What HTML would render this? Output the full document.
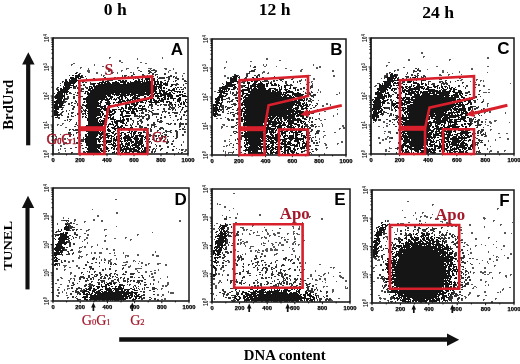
<!DOCTYPE html><html><head><meta charset="utf-8"><style>html,body{margin:0;padding:0;background:#fff;}svg{display:block}</style></head><body><svg width="520" height="364" viewBox="0 0 520 364"><rect width="520" height="364" fill="#fff"/><path d="M421 52.5h2M421 53.5h2M423 56.5h2M109 57.5h2M162 57.5h1M423 57.5h1M487 57.5h2M109 58.5h1M137 58.5h1M162 58.5h1M266 58.5h2M487 58.5h2M137 59.5h1M266 59.5h2M408 59.5h2M449 59.5h2M119 60.5h2M279 60.5h2M408 60.5h2M449 60.5h1M119 61.5h2M226 61.5h1M250 61.5h2M121 62.5h2M140 62.5h2M226 62.5h1M388 62.5h2M73 63.5h2M145 63.5h2M71 64.5h2M94 64.5h1M263 64.5h1M266 64.5h1M313 64.5h1M71 65.5h1M94 65.5h1M250 65.5h1M263 65.5h1M266 65.5h1M313 65.5h1M386 65.5h2M102 66.5h2M250 66.5h1M264 66.5h2M276 66.5h1M319 66.5h2M386 66.5h1M436 66.5h2M487 66.5h2M80 67.5h2M137 67.5h2M224 67.5h2M316 67.5h2M319 67.5h2M403 67.5h2M80 68.5h1M88 68.5h1M126 68.5h3M137 68.5h1M148 68.5h4M164 68.5h3M173 68.5h1M224 68.5h1M285 68.5h2M316 68.5h2M471 68.5h2M88 69.5h1M126 69.5h1M150 69.5h1M153 69.5h2M165 69.5h2M173 69.5h1M301 69.5h2M397 69.5h2M427 69.5h1M471 69.5h2M87 70.5h3M108 70.5h2M121 70.5h2M138 70.5h2M156 70.5h1M169 70.5h2M290 70.5h2M300 70.5h2M332 70.5h2M394 70.5h2M397 70.5h2M442 70.5h2M87 71.5h3M108 71.5h2M121 71.5h1M168 71.5h1M263 71.5h2M300 71.5h2M332 71.5h2M442 71.5h2M459 71.5h1M88 72.5h2M96 72.5h2M112 72.5h2M117 72.5h1M130 72.5h2M133 72.5h1M168 72.5h1M175 72.5h2M262 72.5h3M268 72.5h1M442 72.5h2M447 72.5h1M459 72.5h1M487 72.5h1M96 73.5h2M105 73.5h2M112 73.5h1M117 73.5h1M175 73.5h2M183 73.5h2M246 73.5h1M262 73.5h1M267 73.5h2M386 73.5h1M452 73.5h1M101 74.5h1M439 74.5h2M448 74.5h2M461 74.5h1M101 75.5h1M103 75.5h2M182 75.5h1M224 75.5h2M309 75.5h2M333 75.5h2M384 75.5h1M439 75.5h3M448 75.5h1M176 76.5h1M182 76.5h1M224 76.5h2M333 76.5h2M227 77.5h2M434 77.5h2M447 77.5h1M459 77.5h2M182 78.5h2M227 78.5h1M292 78.5h2M313 78.5h2M381 78.5h1M459 78.5h2M301 79.5h1M305 79.5h1M313 79.5h2M461 79.5h2M476 79.5h2M299 80.5h3M305 80.5h1M460 80.5h2M476 80.5h1M480 80.5h2M483 80.5h1M311 81.5h2M470 81.5h1M480 81.5h1M483 81.5h1M308 82.5h2M311 82.5h1M474 82.5h2M312 83.5h1M474 83.5h1M510 83.5h1M312 84.5h1M478 84.5h2M375 85.5h1M479 85.5h1M483 85.5h2M374 86.5h2M483 86.5h2M56 88.5h1M318 89.5h1M488 89.5h2M318 90.5h1M214 91.5h2M320 91.5h1M317 92.5h1M320 92.5h1M339 92.5h1M483 92.5h4M488 92.5h2M339 93.5h1M336 94.5h2M187 96.5h1M483 99.5h1M318 100.5h1M483 100.5h1M187 102.5h1M326 103.5h2M487 103.5h2M326 104.5h2M330 104.5h1M487 104.5h1M322 105.5h2M330 105.5h1M487 105.5h1M187 106.5h1M322 106.5h2M487 106.5h1M324 108.5h1M484 108.5h1M324 109.5h3M337 109.5h1M187 110.5h1M484 110.5h1M187 111.5h1M324 111.5h2M484 111.5h1M486 111.5h2M489 111.5h2M484 112.5h2M489 112.5h2M505 112.5h1M319 113.5h1M337 113.5h1M484 113.5h1M505 113.5h1M319 114.5h1M337 114.5h1M333 115.5h1M333 116.5h1M225 117.5h1M216 118.5h2M220 118.5h2M318 118.5h2M227 119.5h1M319 119.5h1M324 119.5h2M485 119.5h2M64 120.5h1M320 120.5h2M494 120.5h3M383 121.5h2M485 121.5h1M489 121.5h2M494 121.5h2M383 122.5h2M485 122.5h1M489 122.5h3M509 122.5h1M62 123.5h2M321 123.5h1M386 123.5h2M490 123.5h2M57 124.5h2M62 124.5h1M222 124.5h3M322 124.5h1M485 124.5h1M57 125.5h1M60 125.5h2M223 125.5h2M322 125.5h1M342 125.5h2M386 125.5h2M487 125.5h2M221 126.5h2M226 126.5h2M318 126.5h2M322 126.5h1M342 126.5h2M378 126.5h2M386 126.5h2M490 126.5h1M65 127.5h2M221 127.5h2M343 127.5h2M383 127.5h1M221 128.5h1M339 128.5h2M343 128.5h2M339 129.5h1M490 129.5h2M319 130.5h1M490 130.5h1M185 131.5h1M319 131.5h1M323 131.5h2M384 131.5h2M388 131.5h3M185 132.5h1M334 132.5h2M388 132.5h3M384 133.5h1M390 133.5h1M498 133.5h2M506 133.5h2M60 134.5h1M65 134.5h2M230 135.5h2M324 135.5h2M486 135.5h1M56 136.5h1M323 136.5h1M387 136.5h2M486 136.5h1M56 137.5h1M323 137.5h1M378 137.5h2M387 137.5h1M389 137.5h2M499 137.5h2M55 138.5h2M59 138.5h2M64 138.5h2M67 138.5h1M319 138.5h1M378 138.5h2M385 138.5h2M389 138.5h2M507 138.5h2M55 139.5h2M64 139.5h2M229 139.5h1M319 139.5h1M382 139.5h2M385 139.5h2M495 139.5h1M507 139.5h2M224 140.5h2M382 140.5h2M488 140.5h1M495 140.5h1M183 141.5h1M224 141.5h2M229 141.5h1M319 141.5h1M341 141.5h2M389 141.5h2M488 141.5h1M65 142.5h2M183 142.5h1M319 142.5h1M341 142.5h2M379 142.5h2M389 142.5h1M63 143.5h4M230 143.5h2M324 143.5h2M337 143.5h2M379 143.5h2M63 144.5h2M229 144.5h1M325 144.5h2M337 144.5h1M60 145.5h2M226 145.5h2M229 145.5h1M325 145.5h2M60 146.5h2M223 146.5h2M226 146.5h1M490 146.5h1M232 147.5h1M326 147.5h2M389 147.5h1M60 148.5h1M64 148.5h2M326 148.5h1M389 148.5h3M487 148.5h1M58 149.5h1M60 149.5h1M183 149.5h1M185 149.5h2M385 149.5h2M487 149.5h1M58 150.5h1M65 150.5h1M185 150.5h2M223 150.5h1M385 150.5h2M490 150.5h2M504 150.5h2M65 151.5h1M184 151.5h2M223 151.5h1M225 151.5h1M385 151.5h2M388 151.5h2M489 151.5h3M497 151.5h2M504 151.5h1M58 152.5h2M225 152.5h1M228 152.5h5M489 152.5h1M497 152.5h2M71 153.5h1M84 153.5h2M91 153.5h4M97 153.5h3M112 153.5h1M114 153.5h1M116 153.5h1M121 153.5h2M124 153.5h6M137 153.5h2M140 153.5h3M145 153.5h3M166 153.5h1M181 153.5h1M225 153.5h1M228 153.5h1M232 153.5h1M324 153.5h1M396 153.5h1M404 153.5h2M407 153.5h3M413 153.5h1M418 153.5h1M420 153.5h4M426 153.5h2M432 153.5h3M451 153.5h1M454 153.5h1M458 153.5h3M250 154.5h4M255 154.5h1M263 154.5h1M265 154.5h1M268 154.5h1M270 154.5h1M272 154.5h1M282 154.5h1M284 154.5h2M292 154.5h2M297 154.5h2M309 154.5h1M324 154.5h1M233 193.5h2M115 199.5h2M407 201.5h2M217 203.5h1M217 204.5h1M219 204.5h2M432 204.5h2M432 205.5h1M224 206.5h2M224 207.5h2M233 208.5h1M497 208.5h2M92 209.5h1M497 209.5h1M229 210.5h1M402 210.5h1M441 211.5h2M116 212.5h2M415 212.5h1M422 212.5h2M116 213.5h2M237 213.5h1M415 213.5h1M422 213.5h1M237 214.5h1M259 214.5h2M432 214.5h1M97 215.5h2M222 215.5h1M259 215.5h2M413 215.5h1M424 215.5h2M97 216.5h2M309 216.5h2M420 216.5h2M424 216.5h4M63 217.5h1M229 217.5h2M235 217.5h2M309 217.5h1M404 217.5h2M420 217.5h1M426 217.5h2M430 217.5h2M483 217.5h2M63 218.5h1M235 218.5h2M321 218.5h2M416 218.5h1M430 218.5h1M435 218.5h4M483 218.5h3M74 219.5h2M93 219.5h2M321 219.5h2M416 219.5h1M435 219.5h1M437 219.5h1M449 219.5h2M484 219.5h1M61 220.5h2M74 220.5h2M93 220.5h2M101 220.5h2M179 220.5h2M387 220.5h2M419 220.5h2M444 220.5h2M493 220.5h2M74 221.5h1M84 221.5h2M101 221.5h2M179 221.5h2M388 221.5h1M419 221.5h2M440 221.5h3M493 221.5h1M84 222.5h1M235 222.5h2M302 222.5h1M408 222.5h2M425 222.5h1M442 222.5h1M446 222.5h2M512 222.5h1M57 223.5h1M74 223.5h1M216 223.5h2M235 223.5h2M238 223.5h1M260 223.5h1M281 223.5h2M389 223.5h1M397 223.5h2M400 223.5h4M446 223.5h2M449 223.5h2M57 224.5h1M76 224.5h2M238 224.5h1M252 224.5h2M281 224.5h2M400 224.5h2M408 224.5h1M436 224.5h2M469 224.5h2M500 224.5h2M214 225.5h1M252 225.5h2M389 225.5h2M393 225.5h1M447 225.5h2M451 225.5h2M455 225.5h2M469 225.5h2M500 225.5h1M116 226.5h1M252 226.5h1M292 226.5h2M299 226.5h1M389 226.5h1M405 226.5h2M447 226.5h2M451 226.5h2M455 226.5h2M484 226.5h1M240 227.5h4M264 227.5h1M293 227.5h1M299 227.5h1M391 227.5h2M460 227.5h2M484 227.5h1M213 228.5h2M242 228.5h2M279 228.5h2M293 228.5h1M298 228.5h2M397 228.5h1M80 229.5h2M88 229.5h2M104 229.5h3M213 229.5h2M243 229.5h2M246 229.5h2M265 229.5h2M298 229.5h2M397 229.5h1M460 229.5h2M86 230.5h3M104 230.5h1M243 230.5h2M246 230.5h1M250 230.5h2M265 230.5h2M272 230.5h1M397 230.5h1M460 230.5h2M86 231.5h1M257 231.5h1M262 231.5h1M266 231.5h1M293 231.5h2M374 231.5h1M397 231.5h1M152 232.5h1M253 232.5h2M257 232.5h1M267 232.5h1M277 232.5h3M293 232.5h1M394 232.5h1M471 232.5h2M504 232.5h2M84 233.5h2M242 233.5h1M249 233.5h1M253 233.5h1M267 233.5h2M273 233.5h2M277 233.5h3M287 233.5h2M293 233.5h2M296 233.5h2M461 233.5h2M471 233.5h2M504 233.5h2M511 233.5h1M54 234.5h1M87 234.5h2M137 234.5h2M242 234.5h1M249 234.5h2M267 234.5h2M273 234.5h3M287 234.5h1M293 234.5h1M297 234.5h3M87 235.5h2M105 235.5h2M137 235.5h1M256 235.5h4M269 235.5h2M274 235.5h2M302 235.5h2M79 236.5h2M105 236.5h1M264 236.5h1M269 236.5h1M278 236.5h2M294 236.5h1M385 236.5h3M79 237.5h1M86 237.5h2M125 237.5h2M261 237.5h2M264 237.5h3M281 237.5h2M284 237.5h1M294 237.5h1M386 237.5h2M488 237.5h2M79 238.5h1M86 238.5h2M114 238.5h2M125 238.5h1M261 238.5h1M265 238.5h2M281 238.5h1M294 238.5h2M387 238.5h1M475 238.5h2M488 238.5h1M84 239.5h2M130 239.5h2M240 239.5h2M284 239.5h2M287 239.5h2M294 239.5h2M387 239.5h1M461 239.5h2M475 239.5h2M84 240.5h1M104 240.5h2M130 240.5h1M240 240.5h1M268 240.5h1M284 240.5h2M303 240.5h2M462 240.5h1M82 241.5h1M104 241.5h2M242 241.5h2M246 241.5h2M268 241.5h1M286 241.5h2M294 241.5h2M303 241.5h1M386 241.5h1M496 241.5h1M87 242.5h1M240 242.5h2M244 242.5h4M263 242.5h1M275 242.5h2M279 242.5h2M286 242.5h2M293 242.5h2M464 242.5h2M87 243.5h1M238 243.5h1M240 243.5h2M243 243.5h2M261 243.5h1M263 243.5h3M271 243.5h2M279 243.5h2M292 243.5h2M295 243.5h1M464 243.5h1M97 244.5h1M238 244.5h1M240 244.5h1M244 244.5h1M261 244.5h1M272 244.5h2M278 244.5h1M281 244.5h3M292 244.5h2M295 244.5h1M298 244.5h2M466 244.5h2M481 244.5h1M493 244.5h1M97 245.5h1M245 245.5h1M263 245.5h2M272 245.5h1M278 245.5h1M281 245.5h3M298 245.5h1M467 245.5h2M475 245.5h2M485 245.5h1M503 245.5h2M82 246.5h1M84 246.5h2M91 246.5h2M245 246.5h1M250 246.5h4M273 246.5h2M475 246.5h1M503 246.5h2M79 247.5h3M84 247.5h2M91 247.5h1M250 247.5h1M273 247.5h2M289 247.5h1M496 247.5h1M79 248.5h1M102 248.5h1M106 248.5h2M249 248.5h2M266 248.5h2M270 248.5h2M275 248.5h1M292 248.5h2M470 248.5h1M106 249.5h2M113 249.5h2M235 249.5h1M258 249.5h1M265 249.5h3M270 249.5h3M274 249.5h4M292 249.5h1M470 249.5h1M501 249.5h1M79 250.5h1M113 250.5h2M235 250.5h1M250 250.5h2M255 250.5h2M258 250.5h2M262 250.5h2M265 250.5h3M270 250.5h3M274 250.5h4M282 250.5h2M293 250.5h2M78 251.5h4M155 251.5h1M237 251.5h2M250 251.5h2M255 251.5h1M257 251.5h1M262 251.5h2M266 251.5h2M293 251.5h2M488 251.5h1M78 252.5h3M91 252.5h1M94 252.5h2M99 252.5h3M114 252.5h1M123 252.5h1M155 252.5h1M257 252.5h3M470 252.5h2M488 252.5h1M91 253.5h1M94 253.5h2M99 253.5h3M109 253.5h2M114 253.5h1M123 253.5h1M245 253.5h1M261 253.5h2M276 253.5h2M470 253.5h2M510 253.5h2M86 254.5h2M137 254.5h2M152 254.5h2M242 254.5h1M245 254.5h1M261 254.5h2M274 254.5h3M291 254.5h2M510 254.5h2M79 255.5h1M86 255.5h1M114 255.5h2M125 255.5h4M137 255.5h2M152 255.5h2M156 255.5h3M255 255.5h2M264 255.5h2M274 255.5h1M295 255.5h1M493 255.5h1M504 255.5h1M79 256.5h4M99 256.5h1M125 256.5h1M127 256.5h2M156 256.5h3M299 256.5h1M496 256.5h2M78 257.5h2M81 257.5h1M93 257.5h2M99 257.5h1M125 257.5h1M299 257.5h1M496 257.5h1M498 257.5h1M507 257.5h2M78 258.5h2M96 258.5h1M104 258.5h1M116 258.5h1M298 258.5h1M472 258.5h2M489 258.5h2M507 258.5h2M101 259.5h1M104 259.5h2M110 259.5h2M116 259.5h1M375 259.5h2M378 259.5h2M476 259.5h2M489 259.5h2M496 259.5h2M72 260.5h2M104 260.5h2M108 260.5h3M133 260.5h2M377 260.5h3M482 260.5h1M496 260.5h2M68 261.5h2M72 261.5h2M108 261.5h3M126 261.5h2M133 261.5h1M135 261.5h1M139 261.5h1M228 261.5h2M487 261.5h1M493 261.5h1M68 262.5h2M110 262.5h2M123 262.5h5M141 262.5h2M228 262.5h2M299 262.5h2M305 262.5h1M487 262.5h1M138 263.5h1M141 263.5h2M148 263.5h2M157 263.5h4M300 263.5h1M305 263.5h1M479 263.5h1M488 263.5h1M125 264.5h2M145 264.5h2M148 264.5h1M157 264.5h2M165 264.5h2M319 264.5h2M472 264.5h1M63 265.5h4M76 265.5h2M123 265.5h3M130 265.5h1M145 265.5h2M165 265.5h2M226 265.5h1M375 265.5h2M494 265.5h2M64 266.5h2M76 266.5h2M128 266.5h3M141 266.5h1M300 266.5h2M494 266.5h1M64 267.5h1M69 267.5h2M78 267.5h2M128 267.5h2M330 267.5h2M333 267.5h2M373 267.5h2M472 267.5h2M484 267.5h2M57 268.5h1M78 268.5h2M135 268.5h7M220 268.5h2M232 268.5h1M333 268.5h1M373 268.5h1M472 268.5h2M484 268.5h2M56 269.5h2M64 269.5h2M135 269.5h2M158 269.5h1M220 269.5h2M232 269.5h1M303 269.5h2M64 270.5h1M137 270.5h1M154 270.5h2M158 270.5h1M223 270.5h2M303 270.5h1M315 270.5h1M137 271.5h1M145 271.5h2M150 271.5h2M223 271.5h1M315 271.5h1M373 271.5h2M480 271.5h2M484 271.5h2M70 272.5h2M139 272.5h1M145 272.5h2M154 272.5h2M328 272.5h1M339 272.5h2M473 272.5h2M480 272.5h6M489 272.5h3M499 272.5h2M70 273.5h2M151 273.5h2M154 273.5h2M218 273.5h2M324 273.5h2M328 273.5h1M473 273.5h1M482 273.5h2M489 273.5h1M499 273.5h1M70 274.5h1M151 274.5h2M218 274.5h2M222 274.5h1M227 274.5h2M310 274.5h2M323 274.5h2M484 274.5h2M487 274.5h2M510 274.5h2M74 275.5h2M149 275.5h1M222 275.5h1M310 275.5h2M318 275.5h2M323 275.5h1M339 275.5h2M505 275.5h2M510 275.5h1M74 276.5h2M149 276.5h1M152 276.5h2M167 276.5h1M310 276.5h2M320 276.5h2M333 276.5h1M339 276.5h3M505 276.5h2M60 277.5h2M151 277.5h3M167 277.5h1M340 277.5h4M377 277.5h2M492 277.5h1M506 277.5h1M61 278.5h2M70 278.5h2M73 278.5h2M160 278.5h1M307 278.5h2M312 278.5h1M319 278.5h2M324 278.5h2M342 278.5h2M377 278.5h2M492 278.5h1M57 279.5h2M70 279.5h1M153 279.5h2M213 279.5h2M312 279.5h1M315 279.5h2M319 279.5h2M324 279.5h2M480 279.5h2M57 280.5h2M68 280.5h2M153 280.5h2M219 280.5h2M315 280.5h3M325 280.5h1M345 280.5h2M480 280.5h2M69 281.5h1M158 281.5h1M219 281.5h2M322 281.5h1M336 281.5h1M345 281.5h2M373 281.5h2M485 281.5h2M69 282.5h1M72 282.5h1M158 282.5h1M167 282.5h2M218 282.5h2M325 282.5h1M485 282.5h1M55 283.5h2M153 283.5h1M167 283.5h2M213 283.5h2M218 283.5h1M60 284.5h2M167 284.5h2M213 284.5h2M315 284.5h2M471 284.5h2M488 284.5h1M67 285.5h2M162 285.5h2M165 285.5h3M215 285.5h2M485 285.5h1M488 285.5h1M67 286.5h2M162 286.5h2M165 286.5h2M215 286.5h2M323 286.5h2M326 286.5h2M345 286.5h1M474 286.5h2M58 287.5h2M215 287.5h2M323 287.5h1M345 287.5h1M347 287.5h1M473 287.5h1M476 287.5h1M509 287.5h2M67 288.5h3M156 288.5h1M161 288.5h2M215 288.5h2M345 288.5h3M472 288.5h2M503 288.5h1M57 289.5h2M64 289.5h1M67 289.5h1M157 289.5h1M161 289.5h1M332 289.5h2M502 289.5h2M57 290.5h2M64 290.5h1M332 290.5h2M381 290.5h1M502 290.5h1M62 291.5h1M168 291.5h1M332 291.5h2M381 291.5h2M484 291.5h2M500 291.5h1M58 292.5h2M62 292.5h1M66 292.5h1M168 292.5h1M170 292.5h4M332 292.5h1M469 292.5h2M484 292.5h2M497 292.5h2M500 292.5h1M58 293.5h2M66 293.5h1M170 293.5h4M213 293.5h1M469 293.5h2M157 294.5h2M162 294.5h2M213 294.5h1M468 294.5h2M56 295.5h3M66 295.5h2M157 295.5h2M162 295.5h2M216 295.5h1M378 295.5h2M468 295.5h1M477 295.5h3M485 295.5h2M57 296.5h2M161 296.5h1M464 296.5h2M477 296.5h2M67 297.5h1M379 297.5h2M465 297.5h2M67 298.5h1M164 298.5h2M214 298.5h1M338 298.5h2M379 298.5h3M383 298.5h3M465 298.5h1M495 298.5h2M157 299.5h2M161 299.5h2M164 299.5h2M214 299.5h1M331 299.5h1M380 299.5h1M384 299.5h2M462 299.5h1M483 299.5h2M495 299.5h1M77 300.5h2M86 300.5h2M90 300.5h1M94 300.5h3M99 300.5h1M102 300.5h3M106 300.5h3M110 300.5h1M112 300.5h1M114 300.5h5M121 300.5h1M123 300.5h1M132 300.5h2M157 300.5h2M330 300.5h3M387 300.5h1M461 300.5h2M483 300.5h1M232 301.5h3M244 301.5h1M246 301.5h1M251 301.5h1M254 301.5h3M261 301.5h2M265 301.5h4M271 301.5h1M273 301.5h5M279 301.5h3M284 301.5h4M289 301.5h1M291 301.5h3M296 301.5h3M307 301.5h1M311 301.5h2M314 301.5h1M319 301.5h2M379 301.5h2M388 301.5h1M491 301.5h2M388 302.5h1M391 302.5h1M395 302.5h1M405 302.5h1M407 302.5h2M410 302.5h1M420 302.5h2M425 302.5h2M432 302.5h1M439 302.5h1M491 302.5h2" stroke="#575757" stroke-width="1" fill="none" shape-rendering="crispEdges"/><path d="M254 66.5h2M253 67.5h3M415 68.5h2M418 68.5h1M254 69.5h2M417 69.5h2M148 70.5h2M151 70.5h5M251 70.5h4M413 70.5h2M417 70.5h4M140 71.5h2M148 71.5h3M155 71.5h2M249 71.5h6M394 71.5h1M413 71.5h4M419 71.5h2M76 72.5h2M149 72.5h3M154 72.5h2M249 72.5h1M389 72.5h2M407 72.5h1M413 72.5h1M79 73.5h2M133 73.5h1M148 73.5h2M152 73.5h2M164 73.5h2M247 73.5h3M387 73.5h1M389 73.5h1M407 73.5h1M417 73.5h2M133 74.5h2M142 74.5h2M152 74.5h2M155 74.5h3M164 74.5h2M234 74.5h2M246 74.5h2M258 74.5h2M386 74.5h2M396 74.5h2M406 74.5h1M411 74.5h2M417 74.5h1M69 75.5h1M82 75.5h1M122 75.5h1M124 75.5h3M131 75.5h2M142 75.5h3M147 75.5h1M155 75.5h1M170 75.5h2M234 75.5h1M237 75.5h2M246 75.5h2M254 75.5h2M257 75.5h3M385 75.5h3M397 75.5h1M411 75.5h2M414 75.5h2M417 75.5h2M423 75.5h2M82 76.5h1M85 76.5h1M103 76.5h1M122 76.5h1M124 76.5h2M128 76.5h1M131 76.5h2M135 76.5h4M142 76.5h2M147 76.5h2M152 76.5h2M157 76.5h1M168 76.5h4M173 76.5h2M232 76.5h1M239 76.5h1M246 76.5h2M257 76.5h1M259 76.5h1M274 76.5h1M384 76.5h3M405 76.5h4M415 76.5h3M421 76.5h1M423 76.5h3M83 77.5h1M104 77.5h2M114 77.5h2M117 77.5h2M121 77.5h1M128 77.5h1M135 77.5h2M142 77.5h1M157 77.5h1M159 77.5h6M166 77.5h4M173 77.5h1M175 77.5h2M230 77.5h2M239 77.5h1M245 77.5h2M262 77.5h2M283 77.5h1M384 77.5h2M398 77.5h1M406 77.5h3M410 77.5h1M412 77.5h1M421 77.5h3M425 77.5h1M86 78.5h1M93 78.5h2M104 78.5h1M106 78.5h1M108 78.5h2M114 78.5h2M117 78.5h2M124 78.5h1M135 78.5h1M137 78.5h2M158 78.5h7M168 78.5h2M175 78.5h4M228 78.5h1M239 78.5h1M244 78.5h3M262 78.5h2M267 78.5h2M279 78.5h2M384 78.5h1M398 78.5h1M402 78.5h2M406 78.5h1M410 78.5h1M421 78.5h1M434 78.5h1M439 78.5h3M447 78.5h1M65 79.5h2M86 79.5h1M91 79.5h3M100 79.5h5M110 79.5h2M113 79.5h2M168 79.5h2M177 79.5h2M182 79.5h2M239 79.5h3M248 79.5h1M261 79.5h2M279 79.5h5M291 79.5h2M402 79.5h2M406 79.5h1M423 79.5h3M439 79.5h3M84 80.5h2M89 80.5h2M100 80.5h1M102 80.5h2M107 80.5h6M164 80.5h2M168 80.5h1M175 80.5h2M184 80.5h2M239 80.5h3M247 80.5h1M264 80.5h4M273 80.5h2M276 80.5h2M280 80.5h2M402 80.5h2M424 80.5h2M445 80.5h2M457 80.5h2M62 81.5h2M83 81.5h2M167 81.5h2M173 81.5h1M175 81.5h1M184 81.5h3M226 81.5h1M238 81.5h1M242 81.5h4M262 81.5h7M271 81.5h1M273 81.5h2M282 81.5h1M285 81.5h2M293 81.5h1M297 81.5h1M299 81.5h2M402 81.5h3M407 81.5h1M428 81.5h3M439 81.5h4M445 81.5h1M450 81.5h1M455 81.5h1M62 82.5h1M82 82.5h2M85 82.5h2M90 82.5h1M237 82.5h2M241 82.5h4M268 82.5h1M270 82.5h2M285 82.5h2M293 82.5h1M297 82.5h1M402 82.5h3M428 82.5h1M439 82.5h2M442 82.5h2M445 82.5h2M450 82.5h1M462 82.5h2M60 83.5h1M90 83.5h3M176 83.5h2M185 83.5h2M222 83.5h1M237 83.5h1M243 83.5h2M285 83.5h2M300 83.5h1M377 83.5h3M400 83.5h3M428 83.5h1M432 83.5h3M441 83.5h7M462 83.5h1M83 84.5h2M90 84.5h2M173 84.5h6M183 84.5h1M223 84.5h1M286 84.5h2M290 84.5h2M306 84.5h1M428 84.5h1M431 84.5h4M441 84.5h1M443 84.5h2M446 84.5h2M475 84.5h2M60 85.5h1M79 85.5h3M83 85.5h2M175 85.5h2M183 85.5h1M240 85.5h4M289 85.5h4M311 85.5h2M376 85.5h1M448 85.5h2M458 85.5h2M466 85.5h2M478 85.5h1M75 86.5h2M85 86.5h1M238 86.5h2M241 86.5h3M310 86.5h3M399 86.5h2M458 86.5h2M463 86.5h1M466 86.5h2M57 87.5h2M74 87.5h2M77 87.5h3M85 87.5h3M180 87.5h2M184 87.5h2M219 87.5h2M236 87.5h1M241 87.5h2M294 87.5h3M303 87.5h2M310 87.5h3M397 87.5h1M455 87.5h1M465 87.5h1M473 87.5h3M57 88.5h1M73 88.5h3M77 88.5h3M81 88.5h3M86 88.5h1M183 88.5h1M185 88.5h1M219 88.5h1M235 88.5h1M237 88.5h1M300 88.5h2M303 88.5h2M310 88.5h1M396 88.5h1M398 88.5h1M465 88.5h1M473 88.5h2M56 89.5h3M78 89.5h2M81 89.5h3M181 89.5h3M219 89.5h1M234 89.5h1M237 89.5h1M298 89.5h1M300 89.5h2M306 89.5h2M395 89.5h2M57 90.5h1M80 90.5h2M218 90.5h1M240 90.5h1M399 90.5h1M479 90.5h2M80 91.5h4M183 91.5h1M230 91.5h1M236 91.5h1M238 91.5h1M303 91.5h1M311 91.5h1M468 91.5h2M479 91.5h1M69 92.5h2M75 92.5h1M77 92.5h3M217 92.5h1M230 92.5h1M232 92.5h2M236 92.5h4M305 92.5h1M308 92.5h2M311 92.5h2M394 92.5h3M465 92.5h5M54 93.5h1M69 93.5h3M77 93.5h2M84 93.5h1M185 93.5h1M227 93.5h1M230 93.5h1M232 93.5h2M236 93.5h2M239 93.5h1M305 93.5h2M308 93.5h3M395 93.5h2M465 93.5h3M67 94.5h1M73 94.5h2M79 94.5h1M227 94.5h1M232 94.5h1M234 94.5h3M309 94.5h2M313 94.5h3M392 94.5h2M469 94.5h2M478 94.5h2M55 95.5h1M76 95.5h2M226 95.5h1M233 95.5h4M238 95.5h1M305 95.5h2M308 95.5h1M310 95.5h6M390 95.5h2M54 96.5h1M67 96.5h2M73 96.5h2M79 96.5h4M225 96.5h1M305 96.5h2M308 96.5h1M311 96.5h3M390 96.5h2M473 96.5h4M480 96.5h1M54 97.5h1M67 97.5h2M73 97.5h2M78 97.5h3M228 97.5h2M235 97.5h3M313 97.5h1M390 97.5h1M469 97.5h1M474 97.5h3M65 98.5h4M73 98.5h2M79 98.5h1M226 98.5h4M235 98.5h2M306 98.5h2M309 98.5h2M470 98.5h1M65 99.5h3M223 99.5h3M229 99.5h1M232 99.5h2M307 99.5h1M310 99.5h2M372 99.5h1M388 99.5h1M390 99.5h2M470 99.5h3M477 99.5h1M64 100.5h1M75 100.5h1M79 100.5h1M231 100.5h2M236 100.5h1M308 100.5h3M312 100.5h2M390 100.5h2M473 100.5h3M64 101.5h3M75 101.5h2M79 101.5h1M222 101.5h1M227 101.5h6M308 101.5h4M391 101.5h1M474 101.5h2M482 101.5h2M63 102.5h3M71 102.5h2M76 102.5h1M222 102.5h1M227 102.5h1M229 102.5h1M311 102.5h1M387 102.5h2M391 102.5h1M471 102.5h1M474 102.5h2M481 102.5h2M63 103.5h1M68 103.5h2M71 103.5h1M74 103.5h2M77 103.5h1M156 103.5h1M169 103.5h1M233 103.5h3M316 103.5h2M387 103.5h3M391 103.5h1M68 104.5h2M77 104.5h1M82 104.5h2M152 104.5h1M155 104.5h2M160 104.5h2M163 104.5h4M168 104.5h4M231 104.5h6M309 104.5h2M317 104.5h1M391 104.5h1M63 105.5h2M71 105.5h2M77 105.5h1M79 105.5h2M82 105.5h2M150 105.5h3M157 105.5h2M160 105.5h1M164 105.5h3M168 105.5h2M171 105.5h2M221 105.5h3M234 105.5h2M309 105.5h1M312 105.5h1M315 105.5h2M391 105.5h1M73 106.5h2M79 106.5h3M148 106.5h1M151 106.5h2M169 106.5h2M172 106.5h1M175 106.5h1M221 106.5h3M225 106.5h2M232 106.5h1M315 106.5h1M391 106.5h1M472 106.5h4M478 106.5h1M62 107.5h2M73 107.5h2M79 107.5h1M81 107.5h2M148 107.5h1M151 107.5h1M169 107.5h6M178 107.5h1M221 107.5h3M225 107.5h1M227 107.5h5M313 107.5h2M385 107.5h5M391 107.5h1M472 107.5h1M476 107.5h3M62 108.5h1M72 108.5h2M79 108.5h4M145 108.5h1M151 108.5h2M163 108.5h2M168 108.5h2M171 108.5h4M222 108.5h2M227 108.5h3M237 108.5h1M310 108.5h2M385 108.5h5M391 108.5h1M472 108.5h1M474 108.5h4M483 108.5h1M62 109.5h1M72 109.5h2M79 109.5h2M83 109.5h1M144 109.5h3M157 109.5h2M163 109.5h2M168 109.5h3M172 109.5h2M175 109.5h1M181 109.5h2M220 109.5h4M226 109.5h2M232 109.5h2M237 109.5h1M317 109.5h1M389 109.5h1M391 109.5h2M472 109.5h1M474 109.5h2M481 109.5h1M483 109.5h1M66 110.5h1M69 110.5h1M81 110.5h1M83 110.5h2M142 110.5h1M145 110.5h2M148 110.5h2M152 110.5h2M164 110.5h1M172 110.5h1M175 110.5h1M181 110.5h1M186 110.5h1M220 110.5h2M223 110.5h1M236 110.5h2M309 110.5h1M317 110.5h1M391 110.5h2M395 110.5h1M471 110.5h2M481 110.5h1M483 110.5h1M62 111.5h2M66 111.5h1M81 111.5h2M84 111.5h1M142 111.5h1M145 111.5h2M149 111.5h3M162 111.5h5M180 111.5h1M184 111.5h3M222 111.5h2M228 111.5h1M308 111.5h2M383 111.5h2M395 111.5h1M473 111.5h1M475 111.5h2M478 111.5h2M481 111.5h1M483 111.5h1M61 112.5h2M71 112.5h3M81 112.5h1M141 112.5h3M148 112.5h1M151 112.5h2M162 112.5h1M165 112.5h1M168 112.5h2M172 112.5h6M180 112.5h1M184 112.5h2M222 112.5h2M230 112.5h4M237 112.5h2M308 112.5h1M313 112.5h2M383 112.5h4M470 112.5h1M473 112.5h1M475 112.5h1M478 112.5h2M481 112.5h1M60 113.5h2M68 113.5h1M71 113.5h2M77 113.5h3M82 113.5h3M139 113.5h1M141 113.5h3M152 113.5h7M168 113.5h2M174 113.5h4M227 113.5h2M230 113.5h1M235 113.5h5M308 113.5h2M311 113.5h3M383 113.5h1M387 113.5h2M390 113.5h2M470 113.5h2M476 113.5h1M478 113.5h2M60 114.5h2M68 114.5h1M77 114.5h3M82 114.5h2M145 114.5h4M152 114.5h7M161 114.5h1M179 114.5h1M183 114.5h2M218 114.5h3M232 114.5h3M237 114.5h3M308 114.5h2M382 114.5h2M390 114.5h2M393 114.5h1M470 114.5h3M478 114.5h1M59 115.5h1M61 115.5h2M71 115.5h1M75 115.5h1M134 115.5h4M139 115.5h1M141 115.5h1M145 115.5h2M148 115.5h2M152 115.5h1M161 115.5h1M169 115.5h2M175 115.5h2M183 115.5h2M186 115.5h1M217 115.5h4M233 115.5h2M240 115.5h1M382 115.5h1M389 115.5h3M393 115.5h1M395 115.5h3M472 115.5h3M479 115.5h1M481 115.5h1M67 116.5h2M71 116.5h3M79 116.5h1M82 116.5h2M134 116.5h11M148 116.5h2M156 116.5h1M164 116.5h2M175 116.5h2M181 116.5h1M216 116.5h1M233 116.5h2M307 116.5h1M389 116.5h1M396 116.5h2M57 117.5h3M67 117.5h2M82 117.5h1M139 117.5h1M142 117.5h2M148 117.5h2M156 117.5h1M160 117.5h2M164 117.5h2M170 117.5h1M181 117.5h1M239 117.5h1M307 117.5h1M309 117.5h2M312 117.5h1M395 117.5h3M474 117.5h2M58 118.5h2M131 118.5h1M137 118.5h2M142 118.5h2M146 118.5h4M160 118.5h2M180 118.5h2M227 118.5h2M236 118.5h4M309 118.5h2M312 118.5h1M396 118.5h2M470 118.5h2M473 118.5h1M67 119.5h1M69 119.5h3M130 119.5h2M140 119.5h2M146 119.5h3M157 119.5h2M177 119.5h2M180 119.5h2M185 119.5h2M228 119.5h2M231 119.5h3M236 119.5h3M309 119.5h1M315 119.5h2M378 119.5h3M386 119.5h2M392 119.5h5M470 119.5h4M475 119.5h1M478 119.5h2M65 120.5h1M67 120.5h1M70 120.5h1M78 120.5h2M132 120.5h2M139 120.5h3M147 120.5h1M157 120.5h1M160 120.5h2M173 120.5h1M177 120.5h1M228 120.5h2M231 120.5h3M239 120.5h1M309 120.5h1M373 120.5h1M376 120.5h1M378 120.5h3M389 120.5h2M394 120.5h1M470 120.5h3M477 120.5h3M69 121.5h1M128 121.5h1M133 121.5h1M137 121.5h2M140 121.5h3M157 121.5h6M239 121.5h1M308 121.5h1M311 121.5h2M375 121.5h1M389 121.5h2M397 121.5h1M470 121.5h3M474 121.5h5M481 121.5h2M76 122.5h1M133 122.5h1M137 122.5h1M141 122.5h2M153 122.5h2M159 122.5h3M180 122.5h1M236 122.5h2M309 122.5h1M311 122.5h2M373 122.5h1M392 122.5h1M397 122.5h2M471 122.5h1M474 122.5h2M477 122.5h2M481 122.5h2M76 123.5h1M132 123.5h1M137 123.5h2M141 123.5h1M153 123.5h2M166 123.5h3M170 123.5h2M174 123.5h2M179 123.5h5M185 123.5h2M236 123.5h1M239 123.5h2M398 123.5h1M471 123.5h2M477 123.5h2M75 124.5h2M130 124.5h1M132 124.5h1M137 124.5h2M147 124.5h2M151 124.5h5M168 124.5h3M174 124.5h2M179 124.5h5M185 124.5h2M237 124.5h1M239 124.5h2M305 124.5h3M311 124.5h2M314 124.5h2M389 124.5h1M393 124.5h2M398 124.5h1M471 124.5h1M477 124.5h5M77 125.5h1M127 125.5h1M130 125.5h2M139 125.5h2M147 125.5h2M151 125.5h4M179 125.5h2M235 125.5h2M239 125.5h2M305 125.5h3M310 125.5h4M475 125.5h6M74 126.5h2M78 126.5h1M131 126.5h1M135 126.5h2M139 126.5h4M151 126.5h1M154 126.5h3M179 126.5h2M184 126.5h1M231 126.5h4M238 126.5h3M305 126.5h4M311 126.5h3M315 126.5h2M395 126.5h2M477 126.5h1M78 127.5h1M139 127.5h4M144 127.5h3M151 127.5h1M154 127.5h1M160 127.5h3M179 127.5h1M184 127.5h1M231 127.5h3M238 127.5h1M307 127.5h1M309 127.5h2M315 127.5h1M476 127.5h2M483 127.5h1M140 128.5h2M144 128.5h5M150 128.5h1M159 128.5h5M182 128.5h2M236 128.5h1M307 128.5h4M473 128.5h2M69 129.5h2M72 129.5h2M75 129.5h4M144 129.5h3M150 129.5h2M159 129.5h2M163 129.5h1M179 129.5h2M182 129.5h4M306 129.5h2M311 129.5h2M398 129.5h1M473 129.5h2M481 129.5h3M69 130.5h1M73 130.5h6M143 130.5h4M150 130.5h2M157 130.5h2M165 130.5h2M170 130.5h2M175 130.5h2M306 130.5h2M311 130.5h2M317 130.5h2M398 130.5h1M478 130.5h2M481 130.5h3M78 131.5h2M143 131.5h2M150 131.5h2M157 131.5h1M165 131.5h6M175 131.5h3M184 131.5h1M233 131.5h4M306 131.5h3M310 131.5h2M316 131.5h3M473 131.5h2M477 131.5h2M480 131.5h3M68 132.5h3M76 132.5h3M144 132.5h2M147 132.5h2M163 132.5h2M166 132.5h1M170 132.5h2M176 132.5h2M184 132.5h1M233 132.5h1M236 132.5h2M241 132.5h1M306 132.5h1M309 132.5h1M316 132.5h3M396 132.5h2M473 132.5h2M477 132.5h2M480 132.5h2M485 132.5h1M68 133.5h3M76 133.5h1M146 133.5h3M162 133.5h1M176 133.5h2M234 133.5h2M241 133.5h1M306 133.5h1M309 133.5h1M315 133.5h4M396 133.5h2M473 133.5h3M477 133.5h2M480 133.5h1M483 133.5h1M485 133.5h1M69 134.5h3M73 134.5h1M80 134.5h1M146 134.5h5M164 134.5h3M176 134.5h2M182 134.5h2M307 134.5h2M315 134.5h1M474 134.5h1M481 134.5h5M69 135.5h2M73 135.5h1M80 135.5h1M146 135.5h2M149 135.5h3M153 135.5h4M158 135.5h2M161 135.5h2M165 135.5h2M176 135.5h2M182 135.5h2M241 135.5h1M307 135.5h4M473 135.5h1M477 135.5h2M481 135.5h2M485 135.5h1M69 136.5h2M149 136.5h2M155 136.5h2M158 136.5h1M161 136.5h2M164 136.5h2M167 136.5h2M173 136.5h1M176 136.5h2M239 136.5h1M241 136.5h1M308 136.5h1M315 136.5h1M484 136.5h2M77 137.5h1M83 137.5h1M162 137.5h1M164 137.5h1M176 137.5h2M240 137.5h2M309 137.5h2M312 137.5h2M315 137.5h1M391 137.5h2M474 137.5h2M77 138.5h1M83 138.5h1M149 138.5h1M156 138.5h2M159 138.5h4M175 138.5h2M237 138.5h1M240 138.5h2M309 138.5h1M311 138.5h1M391 138.5h2M474 138.5h1M476 138.5h2M81 139.5h4M148 139.5h2M152 139.5h2M156 139.5h1M161 139.5h1M167 139.5h1M235 139.5h1M237 139.5h5M309 139.5h1M311 139.5h1M478 139.5h2M74 140.5h1M79 140.5h5M148 140.5h1M156 140.5h1M163 140.5h2M167 140.5h1M173 140.5h1M235 140.5h1M238 140.5h2M311 140.5h2M315 140.5h2M399 140.5h1M474 140.5h1M478 140.5h5M74 141.5h1M79 141.5h5M148 141.5h3M156 141.5h1M163 141.5h2M167 141.5h2M172 141.5h2M238 141.5h3M307 141.5h1M311 141.5h2M399 141.5h1M479 141.5h1M481 141.5h1M76 142.5h2M149 142.5h1M151 142.5h1M166 142.5h3M307 142.5h1M309 142.5h1M313 142.5h2M316 142.5h2M398 142.5h2M475 142.5h4M480 142.5h3M76 143.5h2M80 143.5h2M151 143.5h1M166 143.5h2M171 143.5h2M236 143.5h2M313 143.5h2M316 143.5h2M398 143.5h1M475 143.5h1M477 143.5h2M155 144.5h1M171 144.5h2M181 144.5h1M233 144.5h1M238 144.5h1M307 144.5h2M475 144.5h3M484 144.5h2M79 145.5h1M81 145.5h2M156 145.5h1M159 145.5h2M181 145.5h1M233 145.5h1M306 145.5h5M315 145.5h4M475 145.5h1M477 145.5h1M484 145.5h2M80 146.5h1M149 146.5h2M156 146.5h1M159 146.5h2M167 146.5h2M173 146.5h2M240 146.5h2M306 146.5h2M309 146.5h2M399 146.5h1M474 146.5h1M75 147.5h2M80 147.5h1M149 147.5h2M167 147.5h2M233 147.5h1M240 147.5h2M306 147.5h2M397 147.5h3M478 147.5h1M70 148.5h2M82 148.5h2M153 148.5h2M156 148.5h1M161 148.5h2M176 148.5h1M239 148.5h1M306 148.5h1M308 148.5h1M315 148.5h2M395 148.5h4M472 148.5h1M478 148.5h1M149 149.5h1M152 149.5h2M155 149.5h1M160 149.5h2M172 149.5h2M179 149.5h1M181 149.5h2M236 149.5h1M239 149.5h1M309 149.5h1M311 149.5h2M315 149.5h3M397 149.5h1M473 149.5h2M149 150.5h1M152 150.5h1M155 150.5h1M160 150.5h1M172 150.5h2M181 150.5h2M243 150.5h1M304 150.5h3M316 150.5h1M399 150.5h2M473 150.5h1M479 150.5h1M83 151.5h2M151 151.5h2M154 151.5h2M233 151.5h1M303 151.5h2M312 151.5h2M474 151.5h1M476 151.5h4M71 152.5h2M83 152.5h2M151 152.5h2M154 152.5h1M166 152.5h2M178 152.5h1M181 152.5h2M233 152.5h1M240 152.5h2M302 152.5h1M309 152.5h2M396 152.5h1M474 152.5h1M476 152.5h1M478 152.5h3M244 153.5h1M309 153.5h1M311 153.5h1M226 216.5h1M226 217.5h1M68 218.5h1M224 218.5h3M224 219.5h3M63 220.5h6M385 220.5h1M66 221.5h1M68 221.5h1M385 221.5h1M387 221.5h1M67 222.5h1M70 222.5h2M381 222.5h1M65 223.5h7M73 223.5h1M419 223.5h1M421 223.5h1M68 224.5h2M220 224.5h1M226 224.5h2M229 224.5h2M387 224.5h2M417 224.5h2M433 224.5h2M69 225.5h2M220 225.5h1M227 225.5h1M387 225.5h1M417 225.5h2M433 225.5h2M436 225.5h1M69 226.5h4M219 226.5h1M231 226.5h1M378 226.5h1M386 226.5h1M414 226.5h2M69 227.5h6M227 227.5h2M231 227.5h1M376 227.5h2M407 227.5h2M414 227.5h2M418 227.5h2M428 227.5h1M432 227.5h1M441 227.5h2M69 228.5h3M218 228.5h1M227 228.5h2M376 228.5h1M407 228.5h2M418 228.5h3M426 228.5h2M432 228.5h5M441 228.5h1M58 229.5h1M69 229.5h1M72 229.5h3M76 229.5h2M227 229.5h2M385 229.5h1M405 229.5h1M414 229.5h2M417 229.5h2M422 229.5h5M430 229.5h5M58 230.5h1M69 230.5h2M72 230.5h2M76 230.5h1M227 230.5h1M384 230.5h1M400 230.5h2M405 230.5h1M407 230.5h2M413 230.5h1M417 230.5h2M422 230.5h4M430 230.5h4M447 230.5h1M56 231.5h3M216 231.5h1M227 231.5h2M234 231.5h1M237 231.5h2M384 231.5h1M400 231.5h2M413 231.5h1M418 231.5h1M423 231.5h3M428 231.5h1M433 231.5h2M439 231.5h2M55 232.5h2M74 232.5h2M215 232.5h2M227 232.5h6M234 232.5h1M237 232.5h2M383 232.5h2M405 232.5h1M418 232.5h1M421 232.5h2M426 232.5h2M432 232.5h1M439 232.5h2M446 232.5h2M74 233.5h2M228 233.5h1M231 233.5h1M236 233.5h2M383 233.5h4M400 233.5h2M405 233.5h2M409 233.5h2M413 233.5h1M428 233.5h2M431 233.5h2M439 233.5h1M442 233.5h1M446 233.5h1M449 233.5h2M55 234.5h3M74 234.5h4M227 234.5h2M236 234.5h3M383 234.5h2M395 234.5h2M400 234.5h2M405 234.5h2M408 234.5h3M434 234.5h1M441 234.5h3M445 234.5h2M449 234.5h2M452 234.5h2M55 235.5h2M69 235.5h2M76 235.5h2M227 235.5h4M235 235.5h4M374 235.5h1M404 235.5h4M439 235.5h1M441 235.5h6M451 235.5h2M454 235.5h1M55 236.5h1M72 236.5h1M215 236.5h1M228 236.5h4M235 236.5h1M440 236.5h1M444 236.5h1M451 236.5h2M454 236.5h2M457 236.5h2M68 237.5h1M73 237.5h1M75 237.5h2M234 237.5h1M383 237.5h2M398 237.5h2M439 237.5h1M441 237.5h2M444 237.5h2M448 237.5h2M452 237.5h2M457 237.5h2M54 238.5h1M68 238.5h2M73 238.5h1M234 238.5h1M383 238.5h1M394 238.5h3M398 238.5h3M440 238.5h7M448 238.5h2M455 238.5h1M457 238.5h3M68 239.5h1M71 239.5h1M214 239.5h1M226 239.5h2M238 239.5h1M394 239.5h1M396 239.5h5M443 239.5h2M455 239.5h2M68 240.5h2M226 240.5h2M238 240.5h1M398 240.5h2M443 240.5h1M445 240.5h2M455 240.5h1M459 240.5h3M67 241.5h3M226 241.5h2M380 241.5h1M398 241.5h1M444 241.5h3M452 241.5h2M457 241.5h1M67 242.5h4M226 242.5h2M229 242.5h1M389 242.5h4M445 242.5h2M451 242.5h3M456 242.5h2M461 242.5h2M69 243.5h2M73 243.5h2M226 243.5h2M232 243.5h1M234 243.5h1M237 243.5h1M392 243.5h1M395 243.5h1M454 243.5h4M69 244.5h2M73 244.5h2M225 244.5h1M228 244.5h1M234 244.5h1M237 244.5h1M391 244.5h1M393 244.5h3M447 244.5h1M453 244.5h3M69 245.5h2M225 245.5h1M228 245.5h1M231 245.5h2M234 245.5h1M381 245.5h1M385 245.5h1M391 245.5h1M393 245.5h2M455 245.5h1M458 245.5h1M69 246.5h2M226 246.5h1M379 246.5h3M393 246.5h1M450 246.5h1M456 246.5h3M463 246.5h2M66 247.5h2M225 247.5h2M380 247.5h2M392 247.5h1M450 247.5h1M456 247.5h3M64 248.5h1M225 248.5h2M383 248.5h1M385 248.5h3M451 248.5h2M64 249.5h3M71 249.5h2M224 249.5h3M383 249.5h1M388 249.5h3M451 249.5h1M461 249.5h2M64 250.5h3M70 250.5h3M378 250.5h2M381 250.5h2M388 250.5h2M452 250.5h1M461 250.5h2M467 250.5h1M67 251.5h2M225 251.5h3M230 251.5h2M378 251.5h1M388 251.5h2M453 251.5h1M459 251.5h2M62 252.5h1M68 252.5h1M73 252.5h1M222 252.5h1M225 252.5h4M230 252.5h2M388 252.5h2M455 252.5h2M462 252.5h2M68 253.5h2M72 253.5h2M222 253.5h1M227 253.5h2M454 253.5h3M462 253.5h2M61 254.5h2M66 254.5h4M72 254.5h1M223 254.5h2M383 254.5h2M454 254.5h3M468 254.5h1M62 255.5h1M223 255.5h2M238 255.5h1M240 255.5h1M377 255.5h1M381 255.5h2M455 255.5h2M463 255.5h2M220 256.5h1M224 256.5h2M237 256.5h2M240 256.5h2M255 256.5h2M260 256.5h2M264 256.5h2M295 256.5h1M376 256.5h4M381 256.5h2M455 256.5h1M463 256.5h2M219 257.5h2M222 257.5h3M237 257.5h5M256 257.5h1M260 257.5h1M285 257.5h2M295 257.5h1M373 257.5h3M378 257.5h1M381 257.5h2M459 257.5h6M92 258.5h3M222 258.5h2M238 258.5h2M241 258.5h3M254 258.5h4M283 258.5h4M297 258.5h1M374 258.5h3M382 258.5h1M456 258.5h1M459 258.5h5M469 258.5h2M59 259.5h1M92 259.5h2M96 259.5h1M235 259.5h1M238 259.5h2M241 259.5h3M254 259.5h2M283 259.5h3M288 259.5h2M291 259.5h2M297 259.5h2M382 259.5h1M456 259.5h1M461 259.5h1M61 260.5h1M64 260.5h2M101 260.5h1M223 260.5h2M227 260.5h2M235 260.5h1M237 260.5h2M241 260.5h1M251 260.5h1M261 260.5h3M276 260.5h2M285 260.5h1M288 260.5h1M290 260.5h2M298 260.5h1M385 260.5h1M457 260.5h1M461 260.5h1M61 261.5h1M64 261.5h2M87 261.5h1M217 261.5h2M225 261.5h2M237 261.5h1M251 261.5h1M257 261.5h2M261 261.5h1M275 261.5h1M290 261.5h1M383 261.5h1M457 261.5h3M462 261.5h2M467 261.5h1M61 262.5h2M87 262.5h2M95 262.5h2M99 262.5h1M104 262.5h1M108 262.5h1M217 262.5h2M222 262.5h2M255 262.5h4M264 262.5h2M271 262.5h1M275 262.5h1M293 262.5h2M383 262.5h1M461 262.5h5M57 263.5h3M91 263.5h2M99 263.5h1M108 263.5h1M110 263.5h2M114 263.5h2M222 263.5h2M235 263.5h2M243 263.5h1M252 263.5h2M257 263.5h1M270 263.5h2M292 263.5h3M299 263.5h1M385 263.5h1M464 263.5h2M470 263.5h1M57 264.5h1M59 264.5h1M85 264.5h2M110 264.5h2M113 264.5h1M115 264.5h2M236 264.5h2M243 264.5h1M248 264.5h2M252 264.5h1M257 264.5h1M262 264.5h1M265 264.5h2M276 264.5h1M282 264.5h2M380 264.5h2M385 264.5h1M460 264.5h1M471 264.5h1M57 265.5h1M59 265.5h1M85 265.5h2M122 265.5h1M216 265.5h2M219 265.5h1M222 265.5h2M225 265.5h1M236 265.5h2M248 265.5h1M255 265.5h2M258 265.5h2M262 265.5h1M265 265.5h1M268 265.5h2M276 265.5h1M281 265.5h4M380 265.5h2M460 265.5h1M89 266.5h3M99 266.5h1M110 266.5h1M222 266.5h2M242 266.5h2M255 266.5h1M268 266.5h2M275 266.5h2M281 266.5h1M297 266.5h1M461 266.5h3M89 267.5h3M123 267.5h1M221 267.5h3M243 267.5h1M253 267.5h2M257 267.5h1M263 267.5h4M271 267.5h2M275 267.5h2M297 267.5h1M459 267.5h1M463 267.5h1M56 268.5h1M83 268.5h2M90 268.5h4M105 268.5h1M109 268.5h2M122 268.5h2M216 268.5h1M233 268.5h1M257 268.5h1M262 268.5h2M265 268.5h3M271 268.5h1M273 268.5h2M289 268.5h2M459 268.5h1M465 268.5h1M90 269.5h1M92 269.5h2M102 269.5h2M105 269.5h1M109 269.5h2M122 269.5h1M216 269.5h1M233 269.5h1M243 269.5h1M257 269.5h2M262 269.5h1M266 269.5h2M271 269.5h2M280 269.5h2M288 269.5h2M294 269.5h2M299 269.5h1M382 269.5h2M458 269.5h1M462 269.5h2M102 270.5h2M115 270.5h2M216 270.5h1M243 270.5h1M248 270.5h1M257 270.5h1M261 270.5h2M266 270.5h2M276 270.5h1M280 270.5h1M283 270.5h3M294 270.5h2M299 270.5h1M382 270.5h2M458 270.5h1M465 270.5h2M87 271.5h1M89 271.5h1M94 271.5h2M115 271.5h1M125 271.5h2M215 271.5h1M234 271.5h1M242 271.5h2M246 271.5h3M265 271.5h2M272 271.5h1M276 271.5h1M280 271.5h1M284 271.5h1M458 271.5h1M460 271.5h2M465 271.5h3M470 271.5h1M81 272.5h2M89 272.5h1M94 272.5h1M99 272.5h2M125 272.5h2M138 272.5h1M215 272.5h1M234 272.5h1M239 272.5h2M247 272.5h2M259 272.5h2M265 272.5h2M272 272.5h1M278 272.5h4M300 272.5h2M458 272.5h1M461 272.5h2M465 272.5h1M468 272.5h1M470 272.5h1M81 273.5h1M99 273.5h2M110 273.5h2M114 273.5h2M123 273.5h1M130 273.5h5M215 273.5h2M234 273.5h4M239 273.5h2M247 273.5h4M265 273.5h1M271 273.5h2M278 273.5h5M285 273.5h1M458 273.5h1M461 273.5h1M463 273.5h1M468 273.5h1M83 274.5h1M91 274.5h2M95 274.5h3M100 274.5h2M105 274.5h2M109 274.5h2M114 274.5h1M116 274.5h2M122 274.5h4M130 274.5h4M215 274.5h2M234 274.5h2M239 274.5h2M259 274.5h2M262 274.5h1M271 274.5h3M277 274.5h2M281 274.5h2M284 274.5h4M379 274.5h2M463 274.5h1M465 274.5h2M88 275.5h2M94 275.5h1M96 275.5h2M100 275.5h1M105 275.5h3M109 275.5h2M117 275.5h1M141 275.5h2M215 275.5h1M227 275.5h2M249 275.5h2M256 275.5h1M262 275.5h1M271 275.5h2M278 275.5h2M281 275.5h2M284 275.5h2M289 275.5h2M297 275.5h2M379 275.5h2M459 275.5h3M465 275.5h1M80 276.5h4M88 276.5h2M94 276.5h3M101 276.5h2M104 276.5h1M107 276.5h1M110 276.5h1M112 276.5h2M115 276.5h1M130 276.5h3M142 276.5h1M213 276.5h2M243 276.5h2M274 276.5h2M281 276.5h3M289 276.5h2M381 276.5h3M461 276.5h1M468 276.5h2M79 277.5h6M88 277.5h2M92 277.5h2M100 277.5h2M104 277.5h2M109 277.5h1M112 277.5h1M116 277.5h2M120 277.5h2M124 277.5h1M130 277.5h3M134 277.5h1M138 277.5h2M142 277.5h2M242 277.5h3M261 277.5h2M265 277.5h2M268 277.5h2M271 277.5h1M282 277.5h2M286 277.5h2M381 277.5h2M384 277.5h1M461 277.5h3M465 277.5h1M467 277.5h3M79 278.5h2M83 278.5h2M86 278.5h2M90 278.5h2M93 278.5h1M100 278.5h2M103 278.5h3M108 278.5h3M118 278.5h1M120 278.5h1M123 278.5h2M127 278.5h2M143 278.5h1M213 278.5h2M233 278.5h2M242 278.5h1M261 278.5h3M265 278.5h2M271 278.5h1M283 278.5h2M286 278.5h2M289 278.5h1M294 278.5h2M297 278.5h1M300 278.5h1M380 278.5h5M461 278.5h3M467 278.5h1M74 279.5h1M79 279.5h2M87 279.5h1M90 279.5h2M93 279.5h1M98 279.5h2M108 279.5h1M114 279.5h2M117 279.5h2M123 279.5h1M127 279.5h2M144 279.5h2M227 279.5h1M236 279.5h1M257 279.5h1M277 279.5h2M283 279.5h1M285 279.5h1M287 279.5h1M290 279.5h1M294 279.5h4M300 279.5h2M382 279.5h3M458 279.5h3M465 279.5h2M469 279.5h2M74 280.5h1M85 280.5h4M98 280.5h1M100 280.5h5M111 280.5h3M117 280.5h2M123 280.5h3M127 280.5h1M130 280.5h2M133 280.5h2M137 280.5h6M227 280.5h1M230 280.5h3M236 280.5h1M241 280.5h2M255 280.5h2M274 280.5h1M283 280.5h3M290 280.5h1M295 280.5h2M302 280.5h4M383 280.5h2M458 280.5h2M465 280.5h2M469 280.5h2M79 281.5h1M85 281.5h2M91 281.5h2M101 281.5h4M111 281.5h3M118 281.5h1M123 281.5h3M127 281.5h2M130 281.5h1M133 281.5h2M137 281.5h3M141 281.5h2M230 281.5h2M235 281.5h3M241 281.5h1M257 281.5h1M266 281.5h2M272 281.5h1M274 281.5h1M279 281.5h1M282 281.5h2M286 281.5h2M294 281.5h2M300 281.5h1M302 281.5h2M383 281.5h1M385 281.5h1M458 281.5h3M464 281.5h1M73 282.5h1M91 282.5h1M97 282.5h3M101 282.5h2M104 282.5h1M106 282.5h1M109 282.5h3M113 282.5h4M119 282.5h1M127 282.5h1M136 282.5h4M144 282.5h2M221 282.5h1M230 282.5h2M236 282.5h2M239 282.5h3M245 282.5h1M253 282.5h2M257 282.5h2M267 282.5h2M279 282.5h1M281 282.5h1M283 282.5h2M286 282.5h2M293 282.5h3M384 282.5h2M457 282.5h2M461 282.5h2M464 282.5h1M467 282.5h2M72 283.5h2M77 283.5h1M89 283.5h2M98 283.5h2M115 283.5h1M138 283.5h1M140 283.5h1M150 283.5h1M230 283.5h1M239 283.5h3M243 283.5h2M253 283.5h2M257 283.5h1M260 283.5h2M267 283.5h2M270 283.5h2M277 283.5h5M283 283.5h2M286 283.5h2M289 283.5h3M293 283.5h1M299 283.5h2M305 283.5h2M309 283.5h2M457 283.5h1M465 283.5h4M73 284.5h2M85 284.5h2M88 284.5h5M121 284.5h2M127 284.5h1M129 284.5h2M140 284.5h1M144 284.5h3M150 284.5h1M153 284.5h1M235 284.5h1M241 284.5h1M249 284.5h1M260 284.5h2M264 284.5h1M266 284.5h2M275 284.5h2M278 284.5h1M280 284.5h2M286 284.5h2M289 284.5h1M291 284.5h2M299 284.5h2M306 284.5h4M385 284.5h2M456 284.5h1M460 284.5h3M465 284.5h4M71 285.5h3M84 285.5h3M89 285.5h5M129 285.5h1M134 285.5h2M144 285.5h2M249 285.5h1M254 285.5h2M257 285.5h2M260 285.5h2M273 285.5h4M278 285.5h1M282 285.5h2M291 285.5h2M296 285.5h2M306 285.5h2M312 285.5h2M382 285.5h1M384 285.5h3M456 285.5h1M458 285.5h1M460 285.5h3M464 285.5h2M84 286.5h2M88 286.5h4M133 286.5h1M135 286.5h1M138 286.5h1M251 286.5h2M254 286.5h2M257 286.5h2M261 286.5h1M270 286.5h9M290 286.5h2M293 286.5h4M299 286.5h2M307 286.5h3M312 286.5h2M382 286.5h1M384 286.5h2M457 286.5h1M462 286.5h4M71 287.5h2M78 287.5h2M133 287.5h1M136 287.5h1M144 287.5h1M146 287.5h3M152 287.5h3M237 287.5h1M251 287.5h1M254 287.5h5M292 287.5h2M296 287.5h2M299 287.5h2M306 287.5h3M316 287.5h1M383 287.5h2M455 287.5h1M457 287.5h2M461 287.5h2M71 288.5h2M76 288.5h6M85 288.5h2M134 288.5h1M136 288.5h1M138 288.5h1M142 288.5h1M144 288.5h1M152 288.5h4M230 288.5h4M242 288.5h3M249 288.5h4M299 288.5h2M307 288.5h2M311 288.5h2M316 288.5h1M383 288.5h1M387 288.5h1M455 288.5h1M457 288.5h3M76 289.5h2M81 289.5h1M83 289.5h2M139 289.5h1M142 289.5h1M144 289.5h1M152 289.5h3M222 289.5h2M235 289.5h2M307 289.5h2M311 289.5h2M314 289.5h2M317 289.5h1M386 289.5h2M454 289.5h2M459 289.5h1M461 289.5h2M75 290.5h2M80 290.5h4M137 290.5h1M149 290.5h2M222 290.5h2M235 290.5h1M239 290.5h1M306 290.5h7M314 290.5h1M317 290.5h1M320 290.5h1M382 290.5h1M387 290.5h2M72 291.5h2M75 291.5h4M80 291.5h3M140 291.5h2M143 291.5h2M153 291.5h2M223 291.5h3M231 291.5h2M236 291.5h1M239 291.5h1M242 291.5h1M308 291.5h6M320 291.5h2M326 291.5h2M384 291.5h2M387 291.5h3M453 291.5h2M459 291.5h2M75 292.5h5M143 292.5h2M219 292.5h2M224 292.5h2M229 292.5h2M236 292.5h3M311 292.5h3M326 292.5h2M384 292.5h2M387 292.5h3M453 292.5h2M459 292.5h2M70 293.5h2M77 293.5h4M222 293.5h3M227 293.5h2M236 293.5h2M315 293.5h2M326 293.5h1M452 293.5h5M70 294.5h2M77 294.5h1M79 294.5h1M143 294.5h2M153 294.5h2M223 294.5h2M226 294.5h3M315 294.5h1M389 294.5h1M451 294.5h3M455 294.5h3M459 294.5h2M141 295.5h4M223 295.5h1M226 295.5h2M231 295.5h4M316 295.5h3M326 295.5h2M451 295.5h1M454 295.5h5M461 295.5h2M72 296.5h2M76 296.5h1M141 296.5h1M223 296.5h1M234 296.5h1M318 296.5h1M323 296.5h1M326 296.5h2M391 296.5h2M450 296.5h3M454 296.5h3M68 297.5h1M72 297.5h2M75 297.5h1M140 297.5h2M143 297.5h2M149 297.5h2M225 297.5h2M228 297.5h3M232 297.5h2M318 297.5h1M324 297.5h1M390 297.5h3M449 297.5h4M458 297.5h2M76 298.5h2M141 298.5h4M151 298.5h1M154 298.5h2M228 298.5h3M234 298.5h1M319 298.5h3M326 298.5h2M329 298.5h2M390 298.5h4M448 298.5h5M457 298.5h3M461 298.5h2M77 299.5h4M141 299.5h2M149 299.5h2M154 299.5h2M233 299.5h2M317 299.5h1M319 299.5h3M325 299.5h6M390 299.5h2M394 299.5h1M448 299.5h4M457 299.5h2M461 299.5h1M231 300.5h5M317 300.5h1M319 300.5h2M325 300.5h2M328 300.5h2M388 300.5h1M447 300.5h1M449 300.5h3M457 300.5h1M390 301.5h3M395 301.5h1M445 301.5h1M447 301.5h1M451 301.5h1M458 301.5h1" stroke="#353535" stroke-width="1" fill="none" shape-rendering="crispEdges"/><path d="M75 73.5h2M391 73.5h2M78 74.5h2M390 74.5h3M394 74.5h2M72 75.5h2M75 75.5h5M81 75.5h1M235 75.5h2M390 75.5h7M75 76.5h7M233 76.5h5M256 76.5h1M387 76.5h1M390 76.5h7M70 77.5h4M75 77.5h4M80 77.5h3M233 77.5h4M238 77.5h1M252 77.5h2M256 77.5h2M386 77.5h8M395 77.5h2M413 77.5h3M417 77.5h1M70 78.5h7M78 78.5h3M142 78.5h1M145 78.5h5M151 78.5h4M230 78.5h7M253 78.5h2M387 78.5h9M397 78.5h1M414 78.5h1M417 78.5h1M420 78.5h1M69 79.5h1M71 79.5h6M133 79.5h1M138 79.5h2M141 79.5h2M145 79.5h5M151 79.5h4M157 79.5h1M230 79.5h7M249 79.5h3M255 79.5h4M387 79.5h6M394 79.5h1M397 79.5h2M416 79.5h2M420 79.5h3M65 80.5h2M69 80.5h11M81 80.5h2M118 80.5h3M122 80.5h2M125 80.5h2M135 80.5h2M138 80.5h2M142 80.5h1M144 80.5h1M146 80.5h2M149 80.5h1M152 80.5h3M157 80.5h1M230 80.5h7M248 80.5h1M250 80.5h2M254 80.5h6M387 80.5h12M411 80.5h1M416 80.5h1M421 80.5h3M65 81.5h3M69 81.5h8M78 81.5h2M82 81.5h1M102 81.5h2M105 81.5h4M115 81.5h2M120 81.5h7M130 81.5h1M134 81.5h9M144 81.5h1M146 81.5h6M154 81.5h5M160 81.5h2M230 81.5h8M247 81.5h1M251 81.5h2M254 81.5h4M260 81.5h1M383 81.5h11M408 81.5h4M413 81.5h1M421 81.5h1M64 82.5h12M78 82.5h2M99 82.5h7M107 82.5h3M112 82.5h7M120 82.5h6M127 82.5h2M130 82.5h11M142 82.5h11M154 82.5h2M157 82.5h2M160 82.5h3M165 82.5h1M167 82.5h1M226 82.5h8M247 82.5h3M254 82.5h3M260 82.5h2M384 82.5h7M392 82.5h1M394 82.5h2M397 82.5h2M407 82.5h4M413 82.5h4M421 82.5h1M64 83.5h11M78 83.5h2M93 83.5h3M97 83.5h3M101 83.5h2M104 83.5h7M112 83.5h8M123 83.5h3M127 83.5h26M154 83.5h2M157 83.5h2M160 83.5h2M163 83.5h5M226 83.5h6M247 83.5h3M253 83.5h3M258 83.5h5M266 83.5h3M270 83.5h2M274 83.5h2M382 83.5h1M384 83.5h7M393 83.5h7M413 83.5h6M421 83.5h3M425 83.5h1M64 84.5h7M73 84.5h1M92 84.5h3M98 84.5h55M154 84.5h8M163 84.5h5M171 84.5h2M226 84.5h10M248 84.5h1M252 84.5h13M266 84.5h2M271 84.5h2M274 84.5h3M278 84.5h1M379 84.5h2M382 84.5h1M384 84.5h7M393 84.5h1M398 84.5h3M403 84.5h2M406 84.5h1M411 84.5h1M417 84.5h3M421 84.5h2M425 84.5h2M64 85.5h10M76 85.5h1M93 85.5h2M96 85.5h59M156 85.5h1M159 85.5h4M165 85.5h3M171 85.5h2M225 85.5h10M244 85.5h2M248 85.5h1M250 85.5h6M257 85.5h8M266 85.5h2M271 85.5h6M278 85.5h2M284 85.5h5M379 85.5h13M393 85.5h2M396 85.5h3M411 85.5h1M413 85.5h2M417 85.5h3M425 85.5h2M433 85.5h2M437 85.5h2M441 85.5h1M63 86.5h1M65 86.5h5M73 86.5h2M89 86.5h3M93 86.5h69M170 86.5h2M222 86.5h11M234 86.5h2M244 86.5h1M248 86.5h1M250 86.5h15M266 86.5h2M278 86.5h1M281 86.5h1M284 86.5h2M290 86.5h1M379 86.5h10M390 86.5h2M401 86.5h2M405 86.5h3M409 86.5h3M413 86.5h1M416 86.5h8M427 86.5h2M433 86.5h5M441 86.5h2M444 86.5h3M449 86.5h1M63 87.5h9M73 87.5h1M89 87.5h1M91 87.5h2M94 87.5h63M158 87.5h4M163 87.5h2M175 87.5h1M177 87.5h2M221 87.5h7M233 87.5h3M245 87.5h4M250 87.5h2M254 87.5h2M257 87.5h8M279 87.5h1M281 87.5h1M284 87.5h2M290 87.5h1M293 87.5h1M379 87.5h12M401 87.5h3M405 87.5h2M408 87.5h3M414 87.5h9M424 87.5h1M427 87.5h5M434 87.5h2M437 87.5h1M439 87.5h1M441 87.5h2M445 87.5h1M447 87.5h1M449 87.5h1M451 87.5h2M60 88.5h2M63 88.5h7M87 88.5h1M89 88.5h4M94 88.5h63M158 88.5h1M160 88.5h2M163 88.5h2M166 88.5h1M173 88.5h2M176 88.5h1M220 88.5h10M233 88.5h2M247 88.5h5M253 88.5h4M258 88.5h8M269 88.5h7M279 88.5h1M281 88.5h1M285 88.5h1M289 88.5h2M293 88.5h3M377 88.5h10M389 88.5h2M392 88.5h4M402 88.5h2M406 88.5h2M409 88.5h11M421 88.5h4M426 88.5h3M437 88.5h1M439 88.5h1M442 88.5h2M447 88.5h1M449 88.5h3M453 88.5h2M60 89.5h9M88 89.5h3M92 89.5h65M159 89.5h1M161 89.5h1M168 89.5h2M172 89.5h3M176 89.5h1M179 89.5h1M220 89.5h1M222 89.5h5M228 89.5h2M231 89.5h3M242 89.5h8M251 89.5h15M268 89.5h3M274 89.5h4M279 89.5h3M284 89.5h4M295 89.5h1M297 89.5h1M377 89.5h11M391 89.5h2M394 89.5h1M402 89.5h1M404 89.5h2M408 89.5h12M423 89.5h1M425 89.5h10M441 89.5h1M443 89.5h4M450 89.5h2M453 89.5h4M58 90.5h1M60 90.5h8M88 90.5h68M159 90.5h6M168 90.5h7M219 90.5h4M224 90.5h1M226 90.5h1M228 90.5h1M241 90.5h9M251 90.5h20M272 90.5h2M275 90.5h3M279 90.5h2M285 90.5h2M288 90.5h2M295 90.5h1M297 90.5h2M378 90.5h8M387 90.5h1M391 90.5h2M394 90.5h1M402 90.5h11M415 90.5h1M418 90.5h2M428 90.5h10M439 90.5h2M442 90.5h4M449 90.5h2M453 90.5h2M458 90.5h3M58 91.5h11M85 91.5h3M90 91.5h67M159 91.5h2M162 91.5h3M166 91.5h2M171 91.5h1M174 91.5h7M182 91.5h1M219 91.5h9M241 91.5h3M248 91.5h23M272 91.5h4M277 91.5h4M286 91.5h7M377 91.5h2M380 91.5h6M393 91.5h1M402 91.5h3M406 91.5h4M411 91.5h8M420 91.5h2M423 91.5h18M442 91.5h9M452 91.5h3M458 91.5h4M57 92.5h11M85 92.5h1M87 92.5h2M90 92.5h55M146 92.5h8M155 92.5h2M159 92.5h2M163 92.5h4M169 92.5h2M172 92.5h1M177 92.5h1M179 92.5h2M182 92.5h1M218 92.5h7M240 92.5h1M242 92.5h2M248 92.5h34M283 92.5h11M297 92.5h2M375 92.5h9M385 92.5h1M387 92.5h2M400 92.5h2M403 92.5h2M408 92.5h7M416 92.5h3M420 92.5h8M429 92.5h2M432 92.5h3M436 92.5h14M453 92.5h9M57 93.5h6M64 93.5h1M66 93.5h1M85 93.5h1M87 93.5h27M115 93.5h5M121 93.5h9M131 93.5h22M154 93.5h8M163 93.5h8M173 93.5h2M184 93.5h1M220 93.5h2M223 93.5h4M242 93.5h6M250 93.5h32M283 93.5h1M285 93.5h2M292 93.5h9M375 93.5h7M385 93.5h4M400 93.5h2M405 93.5h2M408 93.5h8M417 93.5h2M420 93.5h1M422 93.5h13M436 93.5h14M455 93.5h3M459 93.5h4M56 94.5h7M64 94.5h1M66 94.5h1M87 94.5h24M112 94.5h14M127 94.5h9M138 94.5h12M152 94.5h3M157 94.5h1M160 94.5h12M179 94.5h4M219 94.5h3M226 94.5h1M242 94.5h2M246 94.5h40M287 94.5h2M292 94.5h12M375 94.5h8M384 94.5h1M388 94.5h2M397 94.5h3M405 94.5h7M414 94.5h6M422 94.5h8M433 94.5h4M439 94.5h10M453 94.5h5M459 94.5h2M462 94.5h1M56 95.5h9M88 95.5h18M107 95.5h4M114 95.5h1M116 95.5h3M120 95.5h9M130 95.5h3M134 95.5h10M147 95.5h2M150 95.5h4M155 95.5h4M160 95.5h6M167 95.5h6M176 95.5h5M182 95.5h4M219 95.5h5M225 95.5h1M239 95.5h1M241 95.5h2M245 95.5h36M282 95.5h1M284 95.5h7M292 95.5h1M294 95.5h9M377 95.5h6M384 95.5h3M388 95.5h2M397 95.5h2M405 95.5h1M410 95.5h2M414 95.5h6M421 95.5h29M451 95.5h8M460 95.5h2M465 95.5h2M55 96.5h10M87 96.5h20M108 96.5h5M119 96.5h4M124 96.5h2M130 96.5h1M133 96.5h3M137 96.5h3M144 96.5h2M149 96.5h5M155 96.5h7M164 96.5h2M167 96.5h6M176 96.5h3M182 96.5h5M218 96.5h7M238 96.5h2M241 96.5h2M244 96.5h2M248 96.5h34M283 96.5h4M289 96.5h3M293 96.5h1M295 96.5h8M377 96.5h10M388 96.5h2M397 96.5h1M405 96.5h1M412 96.5h32M445 96.5h4M451 96.5h2M454 96.5h5M461 96.5h2M55 97.5h8M64 97.5h1M86 97.5h21M110 97.5h3M117 97.5h3M121 97.5h2M125 97.5h2M132 97.5h6M144 97.5h2M148 97.5h4M157 97.5h2M163 97.5h3M168 97.5h1M170 97.5h3M179 97.5h2M217 97.5h6M243 97.5h52M298 97.5h3M374 97.5h11M386 97.5h1M388 97.5h1M396 97.5h6M403 97.5h7M411 97.5h48M461 97.5h4M55 98.5h8M64 98.5h1M83 98.5h22M106 98.5h2M109 98.5h3M114 98.5h1M116 98.5h1M118 98.5h2M121 98.5h2M125 98.5h1M127 98.5h1M132 98.5h8M146 98.5h3M151 98.5h3M157 98.5h3M161 98.5h2M164 98.5h2M167 98.5h2M170 98.5h6M178 98.5h3M215 98.5h5M221 98.5h2M237 98.5h1M240 98.5h2M243 98.5h1M245 98.5h51M298 98.5h4M303 98.5h2M375 98.5h10M397 98.5h8M406 98.5h4M411 98.5h2M415 98.5h41M459 98.5h1M463 98.5h2M466 98.5h2M57 99.5h5M63 99.5h2M83 99.5h27M111 99.5h1M113 99.5h4M119 99.5h4M127 99.5h2M130 99.5h3M134 99.5h2M137 99.5h2M144 99.5h2M147 99.5h2M150 99.5h2M153 99.5h2M159 99.5h1M161 99.5h5M167 99.5h2M173 99.5h1M177 99.5h4M185 99.5h2M215 99.5h5M221 99.5h2M240 99.5h2M244 99.5h46M291 99.5h4M298 99.5h5M304 99.5h1M306 99.5h1M373 99.5h1M375 99.5h5M382 99.5h2M387 99.5h1M399 99.5h1M402 99.5h2M405 99.5h51M457 99.5h4M462 99.5h3M56 100.5h6M63 100.5h1M86 100.5h13M101 100.5h2M105 100.5h4M115 100.5h1M119 100.5h2M122 100.5h3M126 100.5h5M132 100.5h2M137 100.5h3M142 100.5h5M150 100.5h2M153 100.5h4M158 100.5h6M173 100.5h1M177 100.5h4M185 100.5h1M216 100.5h4M221 100.5h2M237 100.5h1M239 100.5h2M243 100.5h47M291 100.5h2M294 100.5h3M298 100.5h7M306 100.5h1M372 100.5h1M374 100.5h7M383 100.5h5M393 100.5h1M401 100.5h5M408 100.5h2M411 100.5h45M457 100.5h4M463 100.5h8M54 101.5h10M84 101.5h1M86 101.5h12M100 101.5h2M107 101.5h3M118 101.5h8M127 101.5h1M129 101.5h5M136 101.5h2M139 101.5h4M146 101.5h1M148 101.5h4M154 101.5h5M160 101.5h4M166 101.5h4M177 101.5h3M183 101.5h1M185 101.5h1M215 101.5h4M237 101.5h1M243 101.5h57M303 101.5h1M373 101.5h8M382 101.5h4M392 101.5h1M395 101.5h1M400 101.5h2M404 101.5h7M413 101.5h39M453 101.5h3M457 101.5h5M464 101.5h2M468 101.5h3M54 102.5h9M83 102.5h2M86 102.5h13M100 102.5h2M105 102.5h5M113 102.5h2M116 102.5h6M125 102.5h1M130 102.5h5M136 102.5h3M140 102.5h4M145 102.5h1M149 102.5h11M163 102.5h1M166 102.5h2M169 102.5h3M175 102.5h1M179 102.5h1M181 102.5h1M183 102.5h2M186 102.5h1M215 102.5h5M221 102.5h1M242 102.5h59M304 102.5h1M306 102.5h1M373 102.5h12M392 102.5h1M396 102.5h7M404 102.5h50M456 102.5h7M468 102.5h3M55 103.5h8M87 103.5h14M106 103.5h5M113 103.5h1M118 103.5h1M120 103.5h2M123 103.5h6M131 103.5h4M136 103.5h2M145 103.5h1M151 103.5h1M155 103.5h1M170 103.5h2M180 103.5h2M183 103.5h2M216 103.5h6M238 103.5h1M241 103.5h2M244 103.5h51M296 103.5h5M302 103.5h3M306 103.5h1M374 103.5h7M382 103.5h3M392 103.5h13M406 103.5h4M413 103.5h42M456 103.5h2M459 103.5h2M462 103.5h1M467 103.5h2M470 103.5h2M54 104.5h4M59 104.5h4M86 104.5h13M100 104.5h1M106 104.5h4M115 104.5h1M125 104.5h5M131 104.5h7M149 104.5h3M172 104.5h1M174 104.5h2M178 104.5h1M180 104.5h2M183 104.5h2M213 104.5h5M220 104.5h2M239 104.5h1M241 104.5h56M298 104.5h3M302 104.5h2M305 104.5h3M372 104.5h9M382 104.5h1M392 104.5h4M399 104.5h1M401 104.5h6M410 104.5h54M465 104.5h3M470 104.5h2M54 105.5h4M59 105.5h4M84 105.5h17M104 105.5h2M108 105.5h4M113 105.5h3M125 105.5h2M129 105.5h1M133 105.5h4M139 105.5h3M144 105.5h1M149 105.5h1M175 105.5h1M178 105.5h1M185 105.5h1M213 105.5h6M220 105.5h1M241 105.5h2M244 105.5h50M295 105.5h7M303 105.5h5M373 105.5h8M382 105.5h1M392 105.5h3M396 105.5h2M399 105.5h4M404 105.5h1M407 105.5h49M458 105.5h7M54 106.5h8M85 106.5h21M108 106.5h1M110 106.5h1M113 106.5h2M117 106.5h1M125 106.5h2M129 106.5h4M134 106.5h2M139 106.5h2M142 106.5h3M179 106.5h2M185 106.5h2M213 106.5h1M215 106.5h2M219 106.5h2M245 106.5h48M297 106.5h2M300 106.5h4M306 106.5h3M373 106.5h9M393 106.5h1M395 106.5h3M407 106.5h47M455 106.5h6M462 106.5h3M470 106.5h2M54 107.5h8M86 107.5h11M100 107.5h3M104 107.5h2M107 107.5h2M118 107.5h1M121 107.5h2M125 107.5h2M128 107.5h4M134 107.5h1M138 107.5h1M142 107.5h1M182 107.5h2M213 107.5h5M219 107.5h1M238 107.5h3M243 107.5h50M295 107.5h4M301 107.5h2M305 107.5h2M373 107.5h8M383 107.5h2M394 107.5h12M407 107.5h46M454 107.5h2M458 107.5h1M462 107.5h3M468 107.5h4M54 108.5h5M86 108.5h14M101 108.5h9M121 108.5h3M125 108.5h2M128 108.5h9M138 108.5h7M182 108.5h1M213 108.5h5M219 108.5h1M238 108.5h3M242 108.5h3M246 108.5h46M293 108.5h6M301 108.5h7M372 108.5h10M384 108.5h1M394 108.5h1M398 108.5h3M402 108.5h2M405 108.5h46M452 108.5h6M459 108.5h7M468 108.5h3M55 109.5h4M61 109.5h1M85 109.5h1M88 109.5h14M103 109.5h7M112 109.5h5M118 109.5h4M123 109.5h1M128 109.5h3M132 109.5h5M141 109.5h3M213 109.5h7M238 109.5h5M244 109.5h43M288 109.5h6M295 109.5h3M301 109.5h3M306 109.5h1M372 109.5h8M381 109.5h2M395 109.5h1M400 109.5h1M402 109.5h4M407 109.5h45M453 109.5h13M468 109.5h3M54 110.5h3M85 110.5h2M88 110.5h13M104 110.5h3M108 110.5h3M112 110.5h3M120 110.5h1M123 110.5h3M130 110.5h1M132 110.5h2M136 110.5h2M139 110.5h3M213 110.5h6M241 110.5h2M245 110.5h50M296 110.5h5M306 110.5h2M372 110.5h1M374 110.5h3M378 110.5h1M380 110.5h3M396 110.5h1M401 110.5h4M407 110.5h42M450 110.5h2M454 110.5h3M458 110.5h8M468 110.5h2M54 111.5h4M85 111.5h1M87 111.5h16M106 111.5h2M109 111.5h4M114 111.5h2M120 111.5h4M125 111.5h5M131 111.5h4M136 111.5h2M213 111.5h4M218 111.5h2M240 111.5h64M306 111.5h2M373 111.5h4M378 111.5h4M403 111.5h1M405 111.5h42M451 111.5h1M453 111.5h1M456 111.5h4M461 111.5h1M463 111.5h4M54 112.5h5M85 112.5h1M88 112.5h12M101 112.5h2M106 112.5h6M114 112.5h2M121 112.5h2M126 112.5h3M131 112.5h4M213 112.5h1M215 112.5h2M241 112.5h1M244 112.5h50M295 112.5h10M306 112.5h2M373 112.5h9M404 112.5h4M409 112.5h35M445 112.5h2M448 112.5h12M461 112.5h3M465 112.5h3M469 112.5h1M54 113.5h4M85 113.5h1M87 113.5h14M102 113.5h2M109 113.5h1M112 113.5h3M121 113.5h2M126 113.5h4M131 113.5h5M213 113.5h5M240 113.5h2M243 113.5h48M292 113.5h6M299 113.5h7M373 113.5h6M381 113.5h2M404 113.5h2M407 113.5h27M435 113.5h11M448 113.5h5M454 113.5h1M457 113.5h1M461 113.5h7M54 114.5h6M85 114.5h1M88 114.5h13M102 114.5h2M108 114.5h6M120 114.5h3M134 114.5h2M213 114.5h5M240 114.5h2M243 114.5h2M246 114.5h50M297 114.5h5M304 114.5h4M372 114.5h6M380 114.5h2M402 114.5h1M405 114.5h1M407 114.5h43M451 114.5h2M455 114.5h1M457 114.5h2M460 114.5h3M465 114.5h3M54 115.5h5M86 115.5h1M88 115.5h13M102 115.5h1M104 115.5h3M109 115.5h3M120 115.5h3M125 115.5h6M213 115.5h3M241 115.5h1M243 115.5h44M288 115.5h7M296 115.5h8M372 115.5h7M400 115.5h1M402 115.5h2M406 115.5h1M408 115.5h21M430 115.5h5M436 115.5h26M465 115.5h3M57 116.5h1M85 116.5h1M88 116.5h9M100 116.5h2M104 116.5h3M110 116.5h1M113 116.5h1M122 116.5h8M214 116.5h2M243 116.5h28M272 116.5h4M277 116.5h18M296 116.5h3M300 116.5h4M306 116.5h1M372 116.5h7M398 116.5h3M402 116.5h2M406 116.5h1M408 116.5h35M444 116.5h4M449 116.5h10M461 116.5h5M55 117.5h2M85 117.5h2M88 117.5h8M97 117.5h5M108 117.5h3M112 117.5h2M120 117.5h1M122 117.5h2M241 117.5h2M244 117.5h24M269 117.5h6M276 117.5h2M279 117.5h3M283 117.5h12M302 117.5h2M306 117.5h1M372 117.5h3M376 117.5h3M398 117.5h1M400 117.5h30M431 117.5h2M435 117.5h7M443 117.5h13M458 117.5h2M461 117.5h5M467 117.5h2M87 118.5h12M103 118.5h2M108 118.5h1M110 118.5h4M120 118.5h1M123 118.5h1M126 118.5h3M130 118.5h1M241 118.5h2M244 118.5h30M275 118.5h7M283 118.5h13M297 118.5h3M302 118.5h4M372 118.5h3M376 118.5h1M400 118.5h30M431 118.5h10M442 118.5h8M458 118.5h1M460 118.5h6M469 118.5h1M87 119.5h11M100 119.5h1M104 119.5h3M110 119.5h6M120 119.5h1M122 119.5h3M126 119.5h3M241 119.5h24M266 119.5h3M270 119.5h3M274 119.5h2M277 119.5h2M280 119.5h2M284 119.5h3M288 119.5h3M292 119.5h9M304 119.5h3M373 119.5h4M398 119.5h2M401 119.5h6M409 119.5h21M434 119.5h7M442 119.5h6M449 119.5h4M454 119.5h11M469 119.5h1M87 120.5h11M99 120.5h1M101 120.5h4M114 120.5h1M116 120.5h9M127 120.5h2M241 120.5h2M244 120.5h22M267 120.5h5M274 120.5h2M277 120.5h2M280 120.5h2M284 120.5h2M287 120.5h15M374 120.5h2M398 120.5h2M403 120.5h25M433 120.5h2M436 120.5h12M449 120.5h3M454 120.5h3M460 120.5h1M463 120.5h3M469 120.5h1M88 121.5h10M99 121.5h7M111 121.5h2M114 121.5h10M127 121.5h1M241 121.5h2M244 121.5h1M246 121.5h31M278 121.5h2M281 121.5h2M287 121.5h7M297 121.5h2M300 121.5h5M399 121.5h1M401 121.5h2M405 121.5h22M429 121.5h2M433 121.5h13M447 121.5h6M454 121.5h7M464 121.5h3M469 121.5h1M88 122.5h11M100 122.5h1M102 122.5h5M112 122.5h1M114 122.5h4M120 122.5h4M126 122.5h1M244 122.5h22M268 122.5h14M283 122.5h2M286 122.5h1M288 122.5h6M297 122.5h2M300 122.5h2M303 122.5h1M305 122.5h1M399 122.5h1M402 122.5h44M448 122.5h9M470 122.5h1M88 123.5h18M109 123.5h2M112 123.5h1M115 123.5h3M122 123.5h3M126 123.5h1M243 123.5h20M264 123.5h1M268 123.5h3M272 123.5h10M283 123.5h2M288 123.5h9M301 123.5h2M304 123.5h2M399 123.5h3M403 123.5h29M435 123.5h6M444 123.5h2M448 123.5h1M450 123.5h1M454 123.5h3M464 123.5h2M467 123.5h4M88 124.5h16M106 124.5h1M108 124.5h6M116 124.5h2M125 124.5h1M243 124.5h20M264 124.5h13M279 124.5h2M282 124.5h4M288 124.5h4M294 124.5h6M304 124.5h1M399 124.5h30M430 124.5h2M435 124.5h1M437 124.5h3M441 124.5h2M444 124.5h1M448 124.5h1M450 124.5h1M452 124.5h6M461 124.5h2M464 124.5h2M468 124.5h3M86 125.5h17M104 125.5h2M108 125.5h1M113 125.5h1M115 125.5h3M121 125.5h2M125 125.5h2M243 125.5h26M272 125.5h4M278 125.5h8M287 125.5h2M290 125.5h3M297 125.5h3M302 125.5h1M402 125.5h1M404 125.5h28M435 125.5h3M441 125.5h1M443 125.5h2M448 125.5h8M461 125.5h2M469 125.5h2M85 126.5h18M104 126.5h2M107 126.5h2M114 126.5h2M117 126.5h2M120 126.5h3M244 126.5h1M247 126.5h18M267 126.5h2M271 126.5h11M286 126.5h6M293 126.5h1M295 126.5h1M298 126.5h2M301 126.5h2M304 126.5h1M401 126.5h30M432 126.5h2M435 126.5h4M443 126.5h2M447 126.5h13M462 126.5h2M465 126.5h2M469 126.5h1M85 127.5h13M101 127.5h4M107 127.5h1M111 127.5h4M117 127.5h5M123 127.5h2M130 127.5h3M243 127.5h20M264 127.5h7M275 127.5h1M277 127.5h5M284 127.5h1M287 127.5h8M298 127.5h1M301 127.5h2M304 127.5h1M404 127.5h26M432 127.5h2M436 127.5h3M440 127.5h3M444 127.5h6M452 127.5h7M465 127.5h2M85 128.5h13M103 128.5h1M105 128.5h1M108 128.5h1M112 128.5h8M121 128.5h12M243 128.5h33M277 128.5h5M283 128.5h1M290 128.5h2M293 128.5h2M299 128.5h2M302 128.5h3M402 128.5h5M408 128.5h22M434 128.5h17M453 128.5h7M461 128.5h4M467 128.5h2M85 129.5h11M107 129.5h3M114 129.5h2M121 129.5h2M124 129.5h2M128 129.5h2M131 129.5h1M135 129.5h2M139 129.5h1M242 129.5h23M266 129.5h9M276 129.5h1M278 129.5h1M280 129.5h3M290 129.5h5M296 129.5h10M399 129.5h1M402 129.5h29M433 129.5h2M436 129.5h7M445 129.5h6M453 129.5h2M456 129.5h4M461 129.5h2M467 129.5h2M470 129.5h2M88 130.5h10M100 130.5h2M104 130.5h2M107 130.5h4M115 130.5h1M117 130.5h2M121 130.5h1M128 130.5h2M242 130.5h1M244 130.5h24M269 130.5h1M271 130.5h3M275 130.5h2M281 130.5h3M286 130.5h3M290 130.5h5M296 130.5h1M298 130.5h8M404 130.5h30M436 130.5h1M438 130.5h2M442 130.5h4M447 130.5h5M454 130.5h2M458 130.5h6M465 130.5h5M86 131.5h13M100 131.5h1M102 131.5h4M108 131.5h3M113 131.5h2M117 131.5h2M129 131.5h1M131 131.5h2M134 131.5h3M244 131.5h2M247 131.5h17M265 131.5h3M269 131.5h5M275 131.5h1M278 131.5h5M284 131.5h4M290 131.5h3M295 131.5h2M298 131.5h4M402 131.5h27M431 131.5h3M435 131.5h5M441 131.5h11M453 131.5h3M461 131.5h7M88 132.5h12M101 132.5h4M111 132.5h3M118 132.5h2M121 132.5h3M127 132.5h3M131 132.5h1M133 132.5h3M138 132.5h4M143 132.5h1M242 132.5h1M245 132.5h18M265 132.5h3M269 132.5h7M281 132.5h5M289 132.5h1M291 132.5h10M401 132.5h4M407 132.5h21M429 132.5h4M435 132.5h2M439 132.5h3M446 132.5h6M455 132.5h1M460 132.5h11M87 133.5h17M106 133.5h4M112 133.5h2M115 133.5h2M120 133.5h2M124 133.5h2M130 133.5h2M133 133.5h3M138 133.5h1M140 133.5h2M242 133.5h1M244 133.5h20M265 133.5h2M270 133.5h2M273 133.5h1M277 133.5h3M281 133.5h5M289 133.5h1M293 133.5h1M295 133.5h3M301 133.5h2M401 133.5h1M403 133.5h29M433 133.5h1M435 133.5h7M443 133.5h2M446 133.5h1M448 133.5h3M457 133.5h12M472 133.5h1M85 134.5h2M88 134.5h10M99 134.5h9M114 134.5h2M121 134.5h1M124 134.5h2M128 134.5h1M131 134.5h1M133 134.5h2M139 134.5h2M244 134.5h22M270 134.5h3M275 134.5h5M281 134.5h2M285 134.5h1M293 134.5h1M295 134.5h5M301 134.5h1M306 134.5h1M402 134.5h2M405 134.5h1M407 134.5h25M433 134.5h6M441 134.5h10M452 134.5h1M454 134.5h4M460 134.5h3M465 134.5h3M472 134.5h1M85 135.5h2M88 135.5h10M100 135.5h2M104 135.5h8M114 135.5h1M119 135.5h3M125 135.5h4M131 135.5h1M133 135.5h1M135 135.5h9M242 135.5h23M266 135.5h3M271 135.5h3M275 135.5h6M282 135.5h1M284 135.5h4M289 135.5h5M295 135.5h3M301 135.5h4M306 135.5h1M402 135.5h5M408 135.5h23M433 135.5h12M447 135.5h6M456 135.5h2M460 135.5h2M463 135.5h1M465 135.5h4M470 135.5h2M85 136.5h12M99 136.5h2M102 136.5h4M107 136.5h3M111 136.5h3M116 136.5h5M124 136.5h6M131 136.5h3M135 136.5h3M139 136.5h5M145 136.5h2M242 136.5h29M272 136.5h2M275 136.5h6M283 136.5h3M287 136.5h1M289 136.5h5M295 136.5h2M301 136.5h1M303 136.5h3M400 136.5h32M433 136.5h3M440 136.5h5M447 136.5h3M453 136.5h4M458 136.5h2M461 136.5h2M464 136.5h1M467 136.5h5M473 136.5h1M86 137.5h10M99 137.5h10M111 137.5h1M114 137.5h1M116 137.5h1M118 137.5h2M121 137.5h1M123 137.5h10M134 137.5h4M141 137.5h2M144 137.5h2M244 137.5h22M267 137.5h13M283 137.5h2M288 137.5h6M295 137.5h3M303 137.5h4M400 137.5h2M403 137.5h33M437 137.5h2M442 137.5h8M452 137.5h5M458 137.5h12M85 138.5h14M100 138.5h2M103 138.5h3M108 138.5h1M110 138.5h2M113 138.5h2M116 138.5h1M118 138.5h4M123 138.5h8M133 138.5h6M140 138.5h3M145 138.5h2M245 138.5h2M248 138.5h12M261 138.5h6M268 138.5h12M284 138.5h20M305 138.5h1M401 138.5h2M404 138.5h4M409 138.5h18M428 138.5h2M431 138.5h2M434 138.5h1M442 138.5h7M450 138.5h17M85 139.5h16M103 139.5h3M111 139.5h1M113 139.5h5M119 139.5h1M121 139.5h1M124 139.5h2M127 139.5h5M134 139.5h5M140 139.5h3M144 139.5h1M146 139.5h2M245 139.5h16M262 139.5h2M267 139.5h2M270 139.5h2M274 139.5h5M280 139.5h7M289 139.5h4M295 139.5h9M400 139.5h3M404 139.5h6M411 139.5h20M433 139.5h1M439 139.5h6M446 139.5h3M450 139.5h9M461 139.5h2M464 139.5h1M469 139.5h2M85 140.5h12M98 140.5h2M103 140.5h2M106 140.5h6M113 140.5h8M124 140.5h8M135 140.5h3M139 140.5h4M147 140.5h1M244 140.5h23M268 140.5h2M271 140.5h3M275 140.5h6M282 140.5h4M290 140.5h2M294 140.5h5M300 140.5h1M303 140.5h1M400 140.5h1M403 140.5h7M411 140.5h21M433 140.5h1M436 140.5h3M441 140.5h4M447 140.5h2M452 140.5h10M463 140.5h4M468 140.5h3M472 140.5h2M85 141.5h12M98 141.5h3M102 141.5h10M113 141.5h1M115 141.5h1M117 141.5h6M124 141.5h2M127 141.5h1M130 141.5h4M135 141.5h8M145 141.5h1M147 141.5h1M246 141.5h1M248 141.5h15M264 141.5h10M276 141.5h3M282 141.5h5M288 141.5h3M294 141.5h5M302 141.5h2M306 141.5h1M403 141.5h25M430 141.5h5M436 141.5h1M439 141.5h1M441 141.5h2M444 141.5h7M452 141.5h9M462 141.5h2M468 141.5h1M472 141.5h2M85 142.5h12M99 142.5h1M103 142.5h2M106 142.5h5M113 142.5h2M117 142.5h2M121 142.5h1M126 142.5h1M128 142.5h2M131 142.5h3M135 142.5h8M147 142.5h1M244 142.5h1M246 142.5h15M264 142.5h1M270 142.5h7M281 142.5h2M284 142.5h2M287 142.5h4M297 142.5h3M303 142.5h2M306 142.5h1M400 142.5h1M404 142.5h20M425 142.5h3M430 142.5h4M435 142.5h2M439 142.5h1M441 142.5h2M444 142.5h2M448 142.5h2M451 142.5h9M461 142.5h4M472 142.5h2M86 143.5h11M104 143.5h1M106 143.5h1M111 143.5h1M113 143.5h3M118 143.5h1M121 143.5h2M125 143.5h5M131 143.5h1M134 143.5h9M146 143.5h2M244 143.5h1M246 143.5h17M265 143.5h2M270 143.5h4M275 143.5h1M278 143.5h8M287 143.5h5M297 143.5h3M302 143.5h5M403 143.5h4M409 143.5h19M429 143.5h2M434 143.5h1M439 143.5h2M442 143.5h2M446 143.5h2M449 143.5h1M451 143.5h6M458 143.5h1M460 143.5h7M472 143.5h2M86 144.5h17M104 144.5h2M108 144.5h6M115 144.5h1M117 144.5h6M125 144.5h5M132 144.5h5M138 144.5h4M143 144.5h1M245 144.5h3M249 144.5h14M265 144.5h2M268 144.5h2M272 144.5h2M276 144.5h4M281 144.5h10M292 144.5h3M296 144.5h2M299 144.5h1M302 144.5h1M305 144.5h2M402 144.5h4M409 144.5h19M429 144.5h6M439 144.5h2M443 144.5h2M446 144.5h2M449 144.5h10M460 144.5h4M465 144.5h3M471 144.5h2M86 145.5h15M102 145.5h4M112 145.5h9M122 145.5h2M125 145.5h1M127 145.5h3M131 145.5h9M141 145.5h3M244 145.5h2M247 145.5h1M250 145.5h11M264 145.5h2M267 145.5h2M271 145.5h3M279 145.5h1M284 145.5h3M290 145.5h8M299 145.5h1M302 145.5h1M304 145.5h2M401 145.5h8M410 145.5h16M427 145.5h1M430 145.5h3M434 145.5h4M439 145.5h6M446 145.5h2M449 145.5h1M452 145.5h16M470 145.5h3M88 146.5h13M104 146.5h1M106 146.5h1M113 146.5h3M119 146.5h2M122 146.5h6M130 146.5h1M132 146.5h1M135 146.5h4M141 146.5h3M244 146.5h2M249 146.5h9M259 146.5h11M271 146.5h2M275 146.5h7M283 146.5h7M294 146.5h4M299 146.5h1M302 146.5h4M401 146.5h3M405 146.5h18M424 146.5h2M428 146.5h5M434 146.5h11M446 146.5h3M450 146.5h3M456 146.5h2M459 146.5h6M467 146.5h1M470 146.5h3M85 147.5h2M88 147.5h12M105 147.5h3M111 147.5h2M114 147.5h1M117 147.5h1M119 147.5h4M124 147.5h1M126 147.5h3M130 147.5h1M133 147.5h7M141 147.5h1M144 147.5h4M245 147.5h14M260 147.5h9M270 147.5h4M275 147.5h3M279 147.5h4M284 147.5h7M294 147.5h1M300 147.5h5M401 147.5h3M407 147.5h5M414 147.5h13M434 147.5h2M438 147.5h7M447 147.5h2M450 147.5h2M454 147.5h1M456 147.5h11M468 147.5h3M472 147.5h1M87 148.5h10M98 148.5h4M103 148.5h2M106 148.5h3M111 148.5h1M113 148.5h2M116 148.5h2M120 148.5h2M123 148.5h12M137 148.5h4M142 148.5h1M144 148.5h4M246 148.5h1M248 148.5h14M263 148.5h1M265 148.5h2M268 148.5h3M272 148.5h4M277 148.5h2M280 148.5h2M284 148.5h2M288 148.5h3M293 148.5h2M297 148.5h2M300 148.5h5M401 148.5h2M407 148.5h1M409 148.5h19M429 148.5h1M431 148.5h2M434 148.5h2M437 148.5h3M441 148.5h7M450 148.5h1M452 148.5h7M462 148.5h5M468 148.5h3M87 149.5h11M100 149.5h2M103 149.5h2M106 149.5h2M113 149.5h2M116 149.5h3M120 149.5h17M138 149.5h2M142 149.5h1M144 149.5h2M147 149.5h1M245 149.5h17M263 149.5h1M265 149.5h5M271 149.5h3M275 149.5h4M280 149.5h2M284 149.5h2M287 149.5h4M293 149.5h3M297 149.5h1M301 149.5h1M401 149.5h2M405 149.5h3M410 149.5h11M425 149.5h11M441 149.5h6M450 149.5h7M458 149.5h3M462 149.5h1M464 149.5h2M468 149.5h4M88 150.5h11M100 150.5h5M108 150.5h2M117 150.5h1M120 150.5h4M125 150.5h2M129 150.5h3M133 150.5h6M141 150.5h1M143 150.5h5M244 150.5h14M261 150.5h1M266 150.5h1M270 150.5h3M277 150.5h3M284 150.5h5M290 150.5h3M294 150.5h2M401 150.5h3M405 150.5h2M408 150.5h1M411 150.5h1M414 150.5h5M420 150.5h11M432 150.5h4M439 150.5h2M444 150.5h1M446 150.5h7M454 150.5h1M459 150.5h2M463 150.5h1M466 150.5h2M86 151.5h14M101 151.5h6M108 151.5h1M114 151.5h1M120 151.5h1M122 151.5h2M125 151.5h2M129 151.5h11M141 151.5h6M245 151.5h1M248 151.5h3M252 151.5h6M261 151.5h1M266 151.5h1M270 151.5h2M273 151.5h1M276 151.5h4M281 151.5h2M284 151.5h2M287 151.5h2M290 151.5h5M301 151.5h2M402 151.5h2M405 151.5h4M411 151.5h1M415 151.5h4M421 151.5h11M433 151.5h2M439 151.5h2M442 151.5h3M447 151.5h1M449 151.5h2M453 151.5h5M459 151.5h5M465 151.5h2M85 152.5h1M87 152.5h14M103 152.5h2M112 152.5h3M116 152.5h1M119 152.5h1M121 152.5h2M124 152.5h6M132 152.5h2M137 152.5h11M248 152.5h15M264 152.5h4M270 152.5h10M283 152.5h3M287 152.5h2M291 152.5h4M296 152.5h1M301 152.5h1M402 152.5h1M404 152.5h6M411 152.5h1M413 152.5h1M417 152.5h2M420 152.5h5M426 152.5h3M430 152.5h6M442 152.5h2M447 152.5h1M449 152.5h4M454 152.5h2M458 152.5h6M465 152.5h3M245 153.5h1M248 153.5h18M267 153.5h2M270 153.5h3M275 153.5h5M282 153.5h1M284 153.5h2M287 153.5h3M292 153.5h2M296 153.5h3M382 222.5h1M225 223.5h1M381 223.5h1M65 224.5h3M225 224.5h1M382 224.5h4M66 225.5h1M68 225.5h1M221 225.5h6M381 225.5h2M385 225.5h2M65 226.5h4M220 226.5h1M222 226.5h5M379 226.5h1M382 226.5h1M385 226.5h1M64 227.5h5M219 227.5h1M221 227.5h4M378 227.5h1M380 227.5h6M64 228.5h5M220 228.5h5M379 228.5h5M385 228.5h1M61 229.5h1M64 229.5h5M219 229.5h1M221 229.5h3M377 229.5h1M379 229.5h6M61 230.5h1M66 230.5h3M219 230.5h1M221 230.5h1M223 230.5h2M226 230.5h1M377 230.5h1M379 230.5h5M59 231.5h2M217 231.5h1M220 231.5h2M223 231.5h4M377 231.5h5M383 231.5h1M63 232.5h1M65 232.5h3M220 232.5h3M224 232.5h2M376 232.5h7M60 233.5h4M65 233.5h3M219 233.5h8M376 233.5h6M416 233.5h2M421 233.5h4M426 233.5h2M58 234.5h9M216 234.5h1M218 234.5h1M220 234.5h6M375 234.5h7M411 234.5h1M413 234.5h1M415 234.5h2M422 234.5h3M426 234.5h4M57 235.5h2M60 235.5h7M217 235.5h6M224 235.5h3M375 235.5h7M408 235.5h4M417 235.5h1M421 235.5h8M434 235.5h1M60 236.5h9M216 236.5h11M376 236.5h3M406 236.5h1M410 236.5h2M414 236.5h1M420 236.5h4M425 236.5h1M428 236.5h1M431 236.5h2M59 237.5h9M215 237.5h1M219 237.5h7M377 237.5h2M405 237.5h2M410 237.5h3M414 237.5h5M421 237.5h1M423 237.5h2M426 237.5h3M430 237.5h2M434 237.5h1M436 237.5h3M58 238.5h9M217 238.5h10M374 238.5h6M404 238.5h3M411 238.5h3M415 238.5h4M422 238.5h3M426 238.5h3M430 238.5h3M434 238.5h1M438 238.5h2M55 239.5h1M58 239.5h10M218 239.5h6M225 239.5h1M376 239.5h4M401 239.5h2M406 239.5h1M408 239.5h2M411 239.5h8M420 239.5h1M422 239.5h3M426 239.5h4M431 239.5h3M436 239.5h2M440 239.5h1M59 240.5h6M216 240.5h10M374 240.5h6M401 240.5h2M408 240.5h3M413 240.5h5M420 240.5h2M423 240.5h3M428 240.5h6M436 240.5h3M442 240.5h1M58 241.5h7M66 241.5h1M215 241.5h11M373 241.5h4M378 241.5h2M399 241.5h2M406 241.5h1M408 241.5h4M414 241.5h2M418 241.5h5M425 241.5h3M429 241.5h2M432 241.5h9M442 241.5h2M58 242.5h9M215 242.5h9M225 242.5h1M373 242.5h5M379 242.5h1M399 242.5h2M405 242.5h4M410 242.5h3M414 242.5h7M422 242.5h2M426 242.5h5M432 242.5h3M436 242.5h3M442 242.5h1M444 242.5h1M57 243.5h10M215 243.5h8M225 243.5h1M375 243.5h5M399 243.5h1M401 243.5h3M405 243.5h29M436 243.5h4M442 243.5h1M444 243.5h1M55 244.5h7M64 244.5h2M215 244.5h1M217 244.5h6M224 244.5h1M374 244.5h5M403 244.5h1M405 244.5h13M419 244.5h8M428 244.5h3M432 244.5h11M446 244.5h1M56 245.5h6M217 245.5h8M374 245.5h4M396 245.5h6M403 245.5h7M411 245.5h11M424 245.5h1M426 245.5h5M433 245.5h1M435 245.5h9M446 245.5h2M56 246.5h7M215 246.5h5M221 246.5h2M373 246.5h4M396 246.5h6M403 246.5h8M412 246.5h25M438 246.5h3M442 246.5h3M446 246.5h3M55 247.5h10M214 247.5h9M373 247.5h4M378 247.5h1M393 247.5h3M398 247.5h2M401 247.5h9M411 247.5h26M438 247.5h5M444 247.5h5M54 248.5h10M214 248.5h1M216 248.5h2M219 248.5h3M223 248.5h1M374 248.5h5M392 248.5h1M394 248.5h3M400 248.5h3M404 248.5h1M406 248.5h35M442 248.5h9M54 249.5h7M62 249.5h2M215 249.5h2M218 249.5h4M373 249.5h5M392 249.5h2M395 249.5h1M399 249.5h34M434 249.5h15M450 249.5h1M55 250.5h9M213 250.5h9M373 250.5h4M399 250.5h45M447 250.5h3M56 251.5h3M60 251.5h3M213 251.5h2M216 251.5h5M373 251.5h5M391 251.5h2M396 251.5h42M439 251.5h7M447 251.5h1M452 251.5h1M54 252.5h8M213 252.5h2M217 252.5h4M373 252.5h5M391 252.5h1M394 252.5h1M396 252.5h1M398 252.5h50M449 252.5h4M54 253.5h6M61 253.5h1M213 253.5h3M217 253.5h3M373 253.5h5M392 253.5h2M396 253.5h6M403 253.5h45M449 253.5h4M54 254.5h7M213 254.5h1M215 254.5h6M373 254.5h4M389 254.5h2M392 254.5h1M395 254.5h46M442 254.5h4M447 254.5h5M54 255.5h3M215 255.5h1M217 255.5h2M373 255.5h2M376 255.5h1M389 255.5h1M395 255.5h45M441 255.5h5M447 255.5h3M454 255.5h1M55 256.5h1M219 256.5h1M373 256.5h3M392 256.5h5M398 256.5h46M445 256.5h8M454 256.5h1M54 257.5h3M214 257.5h5M393 257.5h3M399 257.5h55M54 258.5h1M56 258.5h2M214 258.5h2M217 258.5h1M387 258.5h2M392 258.5h2M396 258.5h1M399 258.5h50M450 258.5h6M55 259.5h2M58 259.5h1M215 259.5h1M387 259.5h4M393 259.5h2M396 259.5h1M398 259.5h55M455 259.5h1M54 260.5h4M215 260.5h2M388 260.5h9M398 260.5h55M54 261.5h4M213 261.5h3M387 261.5h3M391 261.5h1M393 261.5h3M397 261.5h55M454 261.5h1M214 262.5h3M388 262.5h56M446 262.5h3M450 262.5h3M55 263.5h2M216 263.5h1M386 263.5h10M397 263.5h49M447 263.5h2M450 263.5h3M54 264.5h3M386 264.5h3M392 264.5h54M447 264.5h9M54 265.5h2M213 265.5h1M386 265.5h4M392 265.5h3M396 265.5h48M445 265.5h3M449 265.5h3M453 265.5h1M213 266.5h2M387 266.5h2M392 266.5h55M448 266.5h4M453 266.5h4M213 267.5h3M386 267.5h61M448 267.5h2M453 267.5h2M456 267.5h1M214 268.5h2M386 268.5h6M394 268.5h52M448 268.5h3M452 268.5h2M456 268.5h1M215 269.5h1M385 269.5h1M387 269.5h3M392 269.5h54M448 269.5h4M453 269.5h5M215 270.5h1M388 270.5h3M392 270.5h59M452 270.5h4M457 270.5h1M387 271.5h2M392 271.5h1M395 271.5h55M451 271.5h2M454 271.5h4M387 272.5h2M391 272.5h55M447 272.5h3M452 272.5h1M456 272.5h1M388 273.5h2M392 273.5h1M395 273.5h55M452 273.5h2M456 273.5h1M213 274.5h2M388 274.5h1M392 274.5h55M448 274.5h2M452 274.5h2M456 274.5h1M213 275.5h2M391 275.5h60M452 275.5h3M388 276.5h4M393 276.5h59M388 277.5h3M392 277.5h2M396 277.5h53M450 277.5h2M455 277.5h2M385 278.5h5M391 278.5h60M454 278.5h3M386 279.5h3M390 279.5h54M445 279.5h1M447 279.5h1M449 279.5h2M391 280.5h1M394 280.5h56M386 281.5h3M392 281.5h55M448 281.5h4M454 281.5h1M386 282.5h1M389 282.5h55M445 282.5h3M449 282.5h3M453 282.5h3M104 283.5h1M107 283.5h5M113 283.5h2M389 283.5h4M394 283.5h56M451 283.5h1M454 283.5h2M98 284.5h2M101 284.5h1M105 284.5h4M110 284.5h2M114 284.5h1M119 284.5h2M394 284.5h58M453 284.5h3M94 285.5h1M101 285.5h1M105 285.5h2M108 285.5h2M119 285.5h6M388 285.5h1M394 285.5h50M445 285.5h4M453 285.5h3M93 286.5h1M96 286.5h4M101 286.5h6M111 286.5h2M115 286.5h2M118 286.5h3M123 286.5h1M388 286.5h1M392 286.5h2M396 286.5h48M445 286.5h4M450 286.5h2M453 286.5h2M89 287.5h3M97 287.5h3M102 287.5h1M105 287.5h2M109 287.5h1M115 287.5h1M118 287.5h4M123 287.5h1M261 287.5h2M265 287.5h2M270 287.5h1M272 287.5h4M281 287.5h1M287 287.5h5M389 287.5h1M392 287.5h1M394 287.5h4M399 287.5h43M443 287.5h1M445 287.5h7M453 287.5h2M88 288.5h4M93 288.5h2M97 288.5h2M105 288.5h6M112 288.5h12M130 288.5h2M254 288.5h4M259 288.5h3M264 288.5h3M272 288.5h4M281 288.5h2M286 288.5h8M388 288.5h6M397 288.5h1M400 288.5h40M441 288.5h9M453 288.5h2M86 289.5h5M93 289.5h4M100 289.5h3M105 289.5h7M114 289.5h9M124 289.5h6M132 289.5h3M250 289.5h3M257 289.5h1M261 289.5h5M271 289.5h1M274 289.5h1M277 289.5h1M279 289.5h1M284 289.5h4M291 289.5h2M294 289.5h1M297 289.5h1M299 289.5h2M390 289.5h9M400 289.5h47M450 289.5h1M453 289.5h1M84 290.5h3M89 290.5h2M92 290.5h4M98 290.5h3M106 290.5h6M113 290.5h1M115 290.5h4M121 290.5h2M124 290.5h2M127 290.5h2M134 290.5h3M253 290.5h1M255 290.5h2M259 290.5h6M269 290.5h1M271 290.5h1M274 290.5h6M281 290.5h1M283 290.5h8M296 290.5h1M298 290.5h2M391 290.5h7M399 290.5h44M445 290.5h4M450 290.5h1M452 290.5h2M83 291.5h6M92 291.5h3M96 291.5h4M101 291.5h2M104 291.5h3M108 291.5h5M115 291.5h10M126 291.5h3M131 291.5h2M243 291.5h1M248 291.5h2M253 291.5h11M265 291.5h1M267 291.5h12M281 291.5h1M283 291.5h4M288 291.5h2M296 291.5h4M305 291.5h2M390 291.5h54M446 291.5h3M82 292.5h3M88 292.5h2M92 292.5h1M94 292.5h7M102 292.5h36M242 292.5h5M250 292.5h6M257 292.5h30M290 292.5h2M293 292.5h4M298 292.5h2M305 292.5h3M310 292.5h1M390 292.5h51M442 292.5h5M451 292.5h2M83 293.5h2M86 293.5h2M89 293.5h1M91 293.5h2M95 293.5h38M134 293.5h3M238 293.5h1M241 293.5h2M245 293.5h4M251 293.5h6M259 293.5h5M266 293.5h5M272 293.5h16M289 293.5h9M299 293.5h1M305 293.5h3M309 293.5h2M395 293.5h1M397 293.5h41M439 293.5h7M448 293.5h2M451 293.5h1M80 294.5h1M83 294.5h9M94 294.5h2M97 294.5h25M123 294.5h6M130 294.5h3M135 294.5h2M138 294.5h2M236 294.5h3M241 294.5h2M245 294.5h11M257 294.5h42M300 294.5h2M303 294.5h3M307 294.5h4M313 294.5h1M395 294.5h2M398 294.5h5M404 294.5h40M448 294.5h1M450 294.5h1M86 295.5h2M90 295.5h37M128 295.5h5M134 295.5h1M136 295.5h3M235 295.5h1M237 295.5h1M243 295.5h2M246 295.5h6M253 295.5h48M303 295.5h3M307 295.5h5M315 295.5h1M393 295.5h3M398 295.5h39M438 295.5h2M442 295.5h5M448 295.5h1M450 295.5h1M83 296.5h5M90 296.5h40M131 296.5h2M134 296.5h7M235 296.5h2M238 296.5h2M243 296.5h5M249 296.5h8M258 296.5h44M304 296.5h2M309 296.5h5M316 296.5h1M393 296.5h1M398 296.5h2M401 296.5h38M442 296.5h5M449 296.5h1M82 297.5h6M89 297.5h35M125 297.5h3M129 297.5h3M135 297.5h2M139 297.5h1M234 297.5h2M239 297.5h2M243 297.5h3M247 297.5h6M254 297.5h52M310 297.5h1M312 297.5h3M316 297.5h1M393 297.5h2M396 297.5h2M399 297.5h3M403 297.5h3M407 297.5h30M438 297.5h1M441 297.5h4M446 297.5h3M84 298.5h2M90 298.5h38M129 298.5h2M133 298.5h1M135 298.5h2M138 298.5h2M235 298.5h2M239 298.5h2M243 298.5h2M246 298.5h3M250 298.5h61M313 298.5h2M316 298.5h1M394 298.5h6M401 298.5h1M403 298.5h7M412 298.5h22M435 298.5h5M441 298.5h4M84 299.5h4M89 299.5h37M132 299.5h4M236 299.5h4M244 299.5h58M304 299.5h1M306 299.5h3M310 299.5h5M397 299.5h2M400 299.5h1M402 299.5h9M413 299.5h12M426 299.5h5M432 299.5h3M436 299.5h4M441 299.5h1M443 299.5h2M237 300.5h2M244 300.5h6M251 300.5h48M300 300.5h3M304 300.5h1M306 300.5h2M309 300.5h4M314 300.5h1M397 300.5h1M400 300.5h6M408 300.5h1M410 300.5h1M412 300.5h16M429 300.5h11M443 300.5h4M402 301.5h9M412 301.5h2M415 301.5h2M418 301.5h9M429 301.5h8M439 301.5h1M442 301.5h1" stroke="#151515" stroke-width="1" fill="none" shape-rendering="crispEdges"/><path d="M53 38H188V154" fill="none" stroke="#1a1a1a" stroke-width="1.5"/><path d="M53 37.5V154H188.5" fill="none" stroke="#111" stroke-width="1.7"/><path d="M50.6 154.0h2.4M51.4 145.3h1.6M51.4 140.2h1.6M51.4 136.5h1.6M51.4 133.7h1.6M51.4 131.4h1.6M51.4 129.5h1.6M51.4 127.8h1.6M51.4 126.3h1.6M50.6 125.0h2.4M51.4 116.3h1.6M51.4 111.2h1.6M51.4 107.5h1.6M51.4 104.7h1.6M51.4 102.4h1.6M51.4 100.5h1.6M51.4 98.8h1.6M51.4 97.3h1.6M50.6 96.0h2.4M51.4 87.3h1.6M51.4 82.2h1.6M51.4 78.5h1.6M51.4 75.7h1.6M51.4 73.4h1.6M51.4 71.5h1.6M51.4 69.8h1.6M51.4 68.3h1.6M50.6 67.0h2.4M51.4 58.3h1.6M51.4 53.2h1.6M51.4 49.5h1.6M51.4 46.7h1.6M51.4 44.4h1.6M51.4 42.5h1.6M51.4 40.8h1.6M51.4 39.3h1.6M50.6 38h2.4M53.0 154v2.2M66.5 154v1.4M80.0 154v2.2M93.5 154v1.4M107.0 154v2.2M120.5 154v1.4M134.0 154v2.2M147.5 154v1.4M161.0 154v2.2M174.5 154v1.4M188.0 154v2.2" stroke="#111" stroke-width="1" fill="none"/><text transform="translate(49.1,157.9) rotate(-90) scale(0.78,1)" font-family="Liberation Sans, sans-serif" font-size="6.4" font-weight="bold" fill="#1a1a1a">10<tspan dy="-2.4" font-size="4.6">0</tspan></text><text transform="translate(49.1,128.9) rotate(-90) scale(0.78,1)" font-family="Liberation Sans, sans-serif" font-size="6.4" font-weight="bold" fill="#1a1a1a">10<tspan dy="-2.4" font-size="4.6">1</tspan></text><text transform="translate(49.1,99.9) rotate(-90) scale(0.78,1)" font-family="Liberation Sans, sans-serif" font-size="6.4" font-weight="bold" fill="#1a1a1a">10<tspan dy="-2.4" font-size="4.6">2</tspan></text><text transform="translate(49.1,70.9) rotate(-90) scale(0.78,1)" font-family="Liberation Sans, sans-serif" font-size="6.4" font-weight="bold" fill="#1a1a1a">10<tspan dy="-2.4" font-size="4.6">3</tspan></text><text transform="translate(49.1,41.9) rotate(-90) scale(0.78,1)" font-family="Liberation Sans, sans-serif" font-size="6.4" font-weight="bold" fill="#1a1a1a">10<tspan dy="-2.4" font-size="4.6">4</tspan></text><text x="53.0" y="162.2" font-family="Liberation Sans, sans-serif" font-size="5.8" font-weight="bold" fill="#000" stroke="#000" stroke-width="0.25" text-anchor="middle">0</text><text x="80.0" y="162.2" font-family="Liberation Sans, sans-serif" font-size="5.8" font-weight="bold" fill="#000" stroke="#000" stroke-width="0.25" text-anchor="middle">200</text><text x="107.0" y="162.2" font-family="Liberation Sans, sans-serif" font-size="5.8" font-weight="bold" fill="#000" stroke="#000" stroke-width="0.25" text-anchor="middle">400</text><text x="134.0" y="162.2" font-family="Liberation Sans, sans-serif" font-size="5.8" font-weight="bold" fill="#000" stroke="#000" stroke-width="0.25" text-anchor="middle">600</text><text x="161.0" y="162.2" font-family="Liberation Sans, sans-serif" font-size="5.8" font-weight="bold" fill="#000" stroke="#000" stroke-width="0.25" text-anchor="middle">800</text><text x="188.0" y="162.2" font-family="Liberation Sans, sans-serif" font-size="5.8" font-weight="bold" fill="#000" stroke="#000" stroke-width="0.25" text-anchor="middle">1000</text><text x="183.0" y="54.8" font-family="'Liberation Sans', sans-serif" font-size="17" font-weight="bold" fill="#000" text-anchor="end" >A</text><path d="M212 39H346V155" fill="none" stroke="#1a1a1a" stroke-width="1.5"/><path d="M212 38.5V155H346.5" fill="none" stroke="#111" stroke-width="1.7"/><path d="M209.6 155.0h2.4M210.4 146.3h1.6M210.4 141.2h1.6M210.4 137.5h1.6M210.4 134.7h1.6M210.4 132.4h1.6M210.4 130.5h1.6M210.4 128.8h1.6M210.4 127.3h1.6M209.6 126.0h2.4M210.4 117.3h1.6M210.4 112.2h1.6M210.4 108.5h1.6M210.4 105.7h1.6M210.4 103.4h1.6M210.4 101.5h1.6M210.4 99.8h1.6M210.4 98.3h1.6M209.6 97.0h2.4M210.4 88.3h1.6M210.4 83.2h1.6M210.4 79.5h1.6M210.4 76.7h1.6M210.4 74.4h1.6M210.4 72.5h1.6M210.4 70.8h1.6M210.4 69.3h1.6M209.6 68.0h2.4M210.4 59.3h1.6M210.4 54.2h1.6M210.4 50.5h1.6M210.4 47.7h1.6M210.4 45.4h1.6M210.4 43.5h1.6M210.4 41.8h1.6M210.4 40.3h1.6M209.6 39h2.4M212.0 155v2.2M225.4 155v1.4M238.8 155v2.2M252.2 155v1.4M265.6 155v2.2M279.0 155v1.4M292.4 155v2.2M305.8 155v1.4M319.2 155v2.2M332.6 155v1.4M346.0 155v2.2" stroke="#111" stroke-width="1" fill="none"/><text transform="translate(208.1,158.9) rotate(-90) scale(0.78,1)" font-family="Liberation Sans, sans-serif" font-size="6.4" font-weight="bold" fill="#1a1a1a">10<tspan dy="-2.4" font-size="4.6">0</tspan></text><text transform="translate(208.1,129.9) rotate(-90) scale(0.78,1)" font-family="Liberation Sans, sans-serif" font-size="6.4" font-weight="bold" fill="#1a1a1a">10<tspan dy="-2.4" font-size="4.6">1</tspan></text><text transform="translate(208.1,100.9) rotate(-90) scale(0.78,1)" font-family="Liberation Sans, sans-serif" font-size="6.4" font-weight="bold" fill="#1a1a1a">10<tspan dy="-2.4" font-size="4.6">2</tspan></text><text transform="translate(208.1,71.9) rotate(-90) scale(0.78,1)" font-family="Liberation Sans, sans-serif" font-size="6.4" font-weight="bold" fill="#1a1a1a">10<tspan dy="-2.4" font-size="4.6">3</tspan></text><text transform="translate(208.1,42.9) rotate(-90) scale(0.78,1)" font-family="Liberation Sans, sans-serif" font-size="6.4" font-weight="bold" fill="#1a1a1a">10<tspan dy="-2.4" font-size="4.6">4</tspan></text><text x="212.0" y="163.2" font-family="Liberation Sans, sans-serif" font-size="5.8" font-weight="bold" fill="#000" stroke="#000" stroke-width="0.25" text-anchor="middle">0</text><text x="238.8" y="163.2" font-family="Liberation Sans, sans-serif" font-size="5.8" font-weight="bold" fill="#000" stroke="#000" stroke-width="0.25" text-anchor="middle">200</text><text x="265.6" y="163.2" font-family="Liberation Sans, sans-serif" font-size="5.8" font-weight="bold" fill="#000" stroke="#000" stroke-width="0.25" text-anchor="middle">400</text><text x="292.4" y="163.2" font-family="Liberation Sans, sans-serif" font-size="5.8" font-weight="bold" fill="#000" stroke="#000" stroke-width="0.25" text-anchor="middle">600</text><text x="319.2" y="163.2" font-family="Liberation Sans, sans-serif" font-size="5.8" font-weight="bold" fill="#000" stroke="#000" stroke-width="0.25" text-anchor="middle">800</text><text x="346.0" y="163.2" font-family="Liberation Sans, sans-serif" font-size="5.8" font-weight="bold" fill="#000" stroke="#000" stroke-width="0.25" text-anchor="middle">1000</text><text x="342.6" y="54.6" font-family="'Liberation Sans', sans-serif" font-size="17" font-weight="bold" fill="#000" text-anchor="end" >B</text><path d="M371 38H514V154" fill="none" stroke="#1a1a1a" stroke-width="1.5"/><path d="M371 37.5V154H514.5" fill="none" stroke="#111" stroke-width="1.7"/><path d="M368.6 154.0h2.4M369.4 145.3h1.6M369.4 140.2h1.6M369.4 136.5h1.6M369.4 133.7h1.6M369.4 131.4h1.6M369.4 129.5h1.6M369.4 127.8h1.6M369.4 126.3h1.6M368.6 125.0h2.4M369.4 116.3h1.6M369.4 111.2h1.6M369.4 107.5h1.6M369.4 104.7h1.6M369.4 102.4h1.6M369.4 100.5h1.6M369.4 98.8h1.6M369.4 97.3h1.6M368.6 96.0h2.4M369.4 87.3h1.6M369.4 82.2h1.6M369.4 78.5h1.6M369.4 75.7h1.6M369.4 73.4h1.6M369.4 71.5h1.6M369.4 69.8h1.6M369.4 68.3h1.6M368.6 67.0h2.4M369.4 58.3h1.6M369.4 53.2h1.6M369.4 49.5h1.6M369.4 46.7h1.6M369.4 44.4h1.6M369.4 42.5h1.6M369.4 40.8h1.6M369.4 39.3h1.6M368.6 38h2.4M371.0 154v2.2M385.3 154v1.4M399.6 154v2.2M413.9 154v1.4M428.2 154v2.2M442.5 154v1.4M456.8 154v2.2M471.1 154v1.4M485.4 154v2.2M499.7 154v1.4M514.0 154v2.2" stroke="#111" stroke-width="1" fill="none"/><text transform="translate(367.1,157.9) rotate(-90) scale(0.78,1)" font-family="Liberation Sans, sans-serif" font-size="6.4" font-weight="bold" fill="#1a1a1a">10<tspan dy="-2.4" font-size="4.6">0</tspan></text><text transform="translate(367.1,128.9) rotate(-90) scale(0.78,1)" font-family="Liberation Sans, sans-serif" font-size="6.4" font-weight="bold" fill="#1a1a1a">10<tspan dy="-2.4" font-size="4.6">1</tspan></text><text transform="translate(367.1,99.9) rotate(-90) scale(0.78,1)" font-family="Liberation Sans, sans-serif" font-size="6.4" font-weight="bold" fill="#1a1a1a">10<tspan dy="-2.4" font-size="4.6">2</tspan></text><text transform="translate(367.1,70.9) rotate(-90) scale(0.78,1)" font-family="Liberation Sans, sans-serif" font-size="6.4" font-weight="bold" fill="#1a1a1a">10<tspan dy="-2.4" font-size="4.6">3</tspan></text><text transform="translate(367.1,41.9) rotate(-90) scale(0.78,1)" font-family="Liberation Sans, sans-serif" font-size="6.4" font-weight="bold" fill="#1a1a1a">10<tspan dy="-2.4" font-size="4.6">4</tspan></text><text x="371.0" y="162.2" font-family="Liberation Sans, sans-serif" font-size="5.8" font-weight="bold" fill="#000" stroke="#000" stroke-width="0.25" text-anchor="middle">0</text><text x="399.6" y="162.2" font-family="Liberation Sans, sans-serif" font-size="5.8" font-weight="bold" fill="#000" stroke="#000" stroke-width="0.25" text-anchor="middle">200</text><text x="428.2" y="162.2" font-family="Liberation Sans, sans-serif" font-size="5.8" font-weight="bold" fill="#000" stroke="#000" stroke-width="0.25" text-anchor="middle">400</text><text x="456.8" y="162.2" font-family="Liberation Sans, sans-serif" font-size="5.8" font-weight="bold" fill="#000" stroke="#000" stroke-width="0.25" text-anchor="middle">600</text><text x="485.4" y="162.2" font-family="Liberation Sans, sans-serif" font-size="5.8" font-weight="bold" fill="#000" stroke="#000" stroke-width="0.25" text-anchor="middle">800</text><text x="514.0" y="162.2" font-family="Liberation Sans, sans-serif" font-size="5.8" font-weight="bold" fill="#000" stroke="#000" stroke-width="0.25" text-anchor="middle">1000</text><text x="509.6" y="54.2" font-family="'Liberation Sans', sans-serif" font-size="17" font-weight="bold" fill="#000" text-anchor="end" >C</text><path d="M53 188H189V301" fill="none" stroke="#1a1a1a" stroke-width="1.5"/><path d="M53 187.5V301H189.5" fill="none" stroke="#111" stroke-width="1.7"/><path d="M50.6 301.0h2.4M51.4 292.5h1.6M51.4 287.5h1.6M51.4 284.0h1.6M51.4 281.3h1.6M51.4 279.0h1.6M51.4 277.1h1.6M51.4 275.5h1.6M51.4 274.0h1.6M50.6 272.8h2.4M51.4 264.2h1.6M51.4 259.3h1.6M51.4 255.7h1.6M51.4 253.0h1.6M51.4 250.8h1.6M51.4 248.9h1.6M51.4 247.2h1.6M51.4 245.8h1.6M50.6 244.5h2.4M51.4 236.0h1.6M51.4 231.0h1.6M51.4 227.5h1.6M51.4 224.8h1.6M51.4 222.5h1.6M51.4 220.6h1.6M51.4 219.0h1.6M51.4 217.5h1.6M50.6 216.2h2.4M51.4 207.7h1.6M51.4 202.8h1.6M51.4 199.2h1.6M51.4 196.5h1.6M51.4 194.3h1.6M51.4 192.4h1.6M51.4 190.7h1.6M51.4 189.3h1.6M50.6 188h2.4M53.0 301v2.2M66.6 301v1.4M80.2 301v2.2M93.8 301v1.4M107.4 301v2.2M121.0 301v1.4M134.6 301v2.2M148.2 301v1.4M161.8 301v2.2M175.4 301v1.4M189.0 301v2.2" stroke="#111" stroke-width="1" fill="none"/><text transform="translate(49.1,304.9) rotate(-90) scale(0.78,1)" font-family="Liberation Sans, sans-serif" font-size="6.4" font-weight="bold" fill="#1a1a1a">10<tspan dy="-2.4" font-size="4.6">0</tspan></text><text transform="translate(49.1,276.6) rotate(-90) scale(0.78,1)" font-family="Liberation Sans, sans-serif" font-size="6.4" font-weight="bold" fill="#1a1a1a">10<tspan dy="-2.4" font-size="4.6">1</tspan></text><text transform="translate(49.1,248.4) rotate(-90) scale(0.78,1)" font-family="Liberation Sans, sans-serif" font-size="6.4" font-weight="bold" fill="#1a1a1a">10<tspan dy="-2.4" font-size="4.6">2</tspan></text><text transform="translate(49.1,220.2) rotate(-90) scale(0.78,1)" font-family="Liberation Sans, sans-serif" font-size="6.4" font-weight="bold" fill="#1a1a1a">10<tspan dy="-2.4" font-size="4.6">3</tspan></text><text transform="translate(49.1,191.9) rotate(-90) scale(0.78,1)" font-family="Liberation Sans, sans-serif" font-size="6.4" font-weight="bold" fill="#1a1a1a">10<tspan dy="-2.4" font-size="4.6">4</tspan></text><text x="53.0" y="309.2" font-family="Liberation Sans, sans-serif" font-size="5.8" font-weight="bold" fill="#000" stroke="#000" stroke-width="0.25" text-anchor="middle">0</text><text x="80.2" y="309.2" font-family="Liberation Sans, sans-serif" font-size="5.8" font-weight="bold" fill="#000" stroke="#000" stroke-width="0.25" text-anchor="middle">200</text><text x="107.4" y="309.2" font-family="Liberation Sans, sans-serif" font-size="5.8" font-weight="bold" fill="#000" stroke="#000" stroke-width="0.25" text-anchor="middle">400</text><text x="134.6" y="309.2" font-family="Liberation Sans, sans-serif" font-size="5.8" font-weight="bold" fill="#000" stroke="#000" stroke-width="0.25" text-anchor="middle">600</text><text x="161.8" y="309.2" font-family="Liberation Sans, sans-serif" font-size="5.8" font-weight="bold" fill="#000" stroke="#000" stroke-width="0.25" text-anchor="middle">800</text><text x="189.0" y="309.2" font-family="Liberation Sans, sans-serif" font-size="5.8" font-weight="bold" fill="#000" stroke="#000" stroke-width="0.25" text-anchor="middle">1000</text><text x="186.9" y="205.4" font-family="'Liberation Sans', sans-serif" font-size="17" font-weight="bold" fill="#000" text-anchor="end" >D</text><path d="M212 189H350V302" fill="none" stroke="#1a1a1a" stroke-width="1.5"/><path d="M212 188.5V302H350.5" fill="none" stroke="#111" stroke-width="1.7"/><path d="M209.6 302.0h2.4M210.4 293.5h1.6M210.4 288.5h1.6M210.4 285.0h1.6M210.4 282.3h1.6M210.4 280.0h1.6M210.4 278.1h1.6M210.4 276.5h1.6M210.4 275.0h1.6M209.6 273.8h2.4M210.4 265.2h1.6M210.4 260.3h1.6M210.4 256.7h1.6M210.4 254.0h1.6M210.4 251.8h1.6M210.4 249.9h1.6M210.4 248.2h1.6M210.4 246.8h1.6M209.6 245.5h2.4M210.4 237.0h1.6M210.4 232.0h1.6M210.4 228.5h1.6M210.4 225.8h1.6M210.4 223.5h1.6M210.4 221.6h1.6M210.4 220.0h1.6M210.4 218.5h1.6M209.6 217.2h2.4M210.4 208.7h1.6M210.4 203.8h1.6M210.4 200.2h1.6M210.4 197.5h1.6M210.4 195.3h1.6M210.4 193.4h1.6M210.4 191.7h1.6M210.4 190.3h1.6M209.6 189h2.4M212.0 302v2.2M225.8 302v1.4M239.6 302v2.2M253.4 302v1.4M267.2 302v2.2M281.0 302v1.4M294.8 302v2.2M308.6 302v1.4M322.4 302v2.2M336.2 302v1.4M350.0 302v2.2" stroke="#111" stroke-width="1" fill="none"/><text transform="translate(208.1,305.9) rotate(-90) scale(0.78,1)" font-family="Liberation Sans, sans-serif" font-size="6.4" font-weight="bold" fill="#1a1a1a">10<tspan dy="-2.4" font-size="4.6">0</tspan></text><text transform="translate(208.1,277.6) rotate(-90) scale(0.78,1)" font-family="Liberation Sans, sans-serif" font-size="6.4" font-weight="bold" fill="#1a1a1a">10<tspan dy="-2.4" font-size="4.6">1</tspan></text><text transform="translate(208.1,249.4) rotate(-90) scale(0.78,1)" font-family="Liberation Sans, sans-serif" font-size="6.4" font-weight="bold" fill="#1a1a1a">10<tspan dy="-2.4" font-size="4.6">2</tspan></text><text transform="translate(208.1,221.2) rotate(-90) scale(0.78,1)" font-family="Liberation Sans, sans-serif" font-size="6.4" font-weight="bold" fill="#1a1a1a">10<tspan dy="-2.4" font-size="4.6">3</tspan></text><text transform="translate(208.1,192.9) rotate(-90) scale(0.78,1)" font-family="Liberation Sans, sans-serif" font-size="6.4" font-weight="bold" fill="#1a1a1a">10<tspan dy="-2.4" font-size="4.6">4</tspan></text><text x="212.0" y="310.2" font-family="Liberation Sans, sans-serif" font-size="5.8" font-weight="bold" fill="#000" stroke="#000" stroke-width="0.25" text-anchor="middle">0</text><text x="239.6" y="310.2" font-family="Liberation Sans, sans-serif" font-size="5.8" font-weight="bold" fill="#000" stroke="#000" stroke-width="0.25" text-anchor="middle">200</text><text x="267.2" y="310.2" font-family="Liberation Sans, sans-serif" font-size="5.8" font-weight="bold" fill="#000" stroke="#000" stroke-width="0.25" text-anchor="middle">400</text><text x="294.8" y="310.2" font-family="Liberation Sans, sans-serif" font-size="5.8" font-weight="bold" fill="#000" stroke="#000" stroke-width="0.25" text-anchor="middle">600</text><text x="322.4" y="310.2" font-family="Liberation Sans, sans-serif" font-size="5.8" font-weight="bold" fill="#000" stroke="#000" stroke-width="0.25" text-anchor="middle">800</text><text x="350.0" y="310.2" font-family="Liberation Sans, sans-serif" font-size="5.8" font-weight="bold" fill="#000" stroke="#000" stroke-width="0.25" text-anchor="middle">1000</text><text x="345.6" y="205.1" font-family="'Liberation Sans', sans-serif" font-size="17" font-weight="bold" fill="#000" text-anchor="end" >E</text><path d="M372 190H514V303" fill="none" stroke="#1a1a1a" stroke-width="1.5"/><path d="M372 189.5V303H514.5" fill="none" stroke="#111" stroke-width="1.7"/><path d="M369.6 303.0h2.4M370.4 294.5h1.6M370.4 289.5h1.6M370.4 286.0h1.6M370.4 283.3h1.6M370.4 281.0h1.6M370.4 279.1h1.6M370.4 277.5h1.6M370.4 276.0h1.6M369.6 274.8h2.4M370.4 266.2h1.6M370.4 261.3h1.6M370.4 257.7h1.6M370.4 255.0h1.6M370.4 252.8h1.6M370.4 250.9h1.6M370.4 249.2h1.6M370.4 247.8h1.6M369.6 246.5h2.4M370.4 238.0h1.6M370.4 233.0h1.6M370.4 229.5h1.6M370.4 226.8h1.6M370.4 224.5h1.6M370.4 222.6h1.6M370.4 221.0h1.6M370.4 219.5h1.6M369.6 218.2h2.4M370.4 209.7h1.6M370.4 204.8h1.6M370.4 201.2h1.6M370.4 198.5h1.6M370.4 196.3h1.6M370.4 194.4h1.6M370.4 192.7h1.6M370.4 191.3h1.6M369.6 190h2.4M372.0 303v2.2M386.2 303v1.4M400.4 303v2.2M414.6 303v1.4M428.8 303v2.2M443.0 303v1.4M457.2 303v2.2M471.4 303v1.4M485.6 303v2.2M499.8 303v1.4M514.0 303v2.2" stroke="#111" stroke-width="1" fill="none"/><text transform="translate(368.1,306.9) rotate(-90) scale(0.78,1)" font-family="Liberation Sans, sans-serif" font-size="6.4" font-weight="bold" fill="#1a1a1a">10<tspan dy="-2.4" font-size="4.6">0</tspan></text><text transform="translate(368.1,278.6) rotate(-90) scale(0.78,1)" font-family="Liberation Sans, sans-serif" font-size="6.4" font-weight="bold" fill="#1a1a1a">10<tspan dy="-2.4" font-size="4.6">1</tspan></text><text transform="translate(368.1,250.4) rotate(-90) scale(0.78,1)" font-family="Liberation Sans, sans-serif" font-size="6.4" font-weight="bold" fill="#1a1a1a">10<tspan dy="-2.4" font-size="4.6">2</tspan></text><text transform="translate(368.1,222.2) rotate(-90) scale(0.78,1)" font-family="Liberation Sans, sans-serif" font-size="6.4" font-weight="bold" fill="#1a1a1a">10<tspan dy="-2.4" font-size="4.6">3</tspan></text><text transform="translate(368.1,193.9) rotate(-90) scale(0.78,1)" font-family="Liberation Sans, sans-serif" font-size="6.4" font-weight="bold" fill="#1a1a1a">10<tspan dy="-2.4" font-size="4.6">4</tspan></text><text x="372.0" y="311.2" font-family="Liberation Sans, sans-serif" font-size="5.8" font-weight="bold" fill="#000" stroke="#000" stroke-width="0.25" text-anchor="middle">0</text><text x="400.4" y="311.2" font-family="Liberation Sans, sans-serif" font-size="5.8" font-weight="bold" fill="#000" stroke="#000" stroke-width="0.25" text-anchor="middle">200</text><text x="428.8" y="311.2" font-family="Liberation Sans, sans-serif" font-size="5.8" font-weight="bold" fill="#000" stroke="#000" stroke-width="0.25" text-anchor="middle">400</text><text x="457.2" y="311.2" font-family="Liberation Sans, sans-serif" font-size="5.8" font-weight="bold" fill="#000" stroke="#000" stroke-width="0.25" text-anchor="middle">600</text><text x="485.6" y="311.2" font-family="Liberation Sans, sans-serif" font-size="5.8" font-weight="bold" fill="#000" stroke="#000" stroke-width="0.25" text-anchor="middle">800</text><text x="514.0" y="311.2" font-family="Liberation Sans, sans-serif" font-size="5.8" font-weight="bold" fill="#000" stroke="#000" stroke-width="0.25" text-anchor="middle">1000</text><text x="509.6" y="206.2" font-family="'Liberation Sans', sans-serif" font-size="17" font-weight="bold" fill="#000" text-anchor="end" >F</text><path d="M79.5 80.8L152 76.5L152 97.5L108.5 107L104.5 129L79.5 129Z" fill="none" stroke="#d8202c" stroke-width="2.6" stroke-linejoin="miter"/><path d="M79.5 129L104.5 129L104.5 154L79.5 154Z" fill="none" stroke="#d8202c" stroke-width="2.6" stroke-linejoin="miter"/><path d="M118.5 129.5L147.5 129.5L147.5 154L118.5 154Z" fill="none" stroke="#d8202c" stroke-width="2.6" stroke-linejoin="miter"/><rect x="79.5" y="126.2" width="25" height="5" fill="#d8202c"/><path d="M239.5 80.4L308 76.2L308 96L268.6 105.2L264.5 129L239.5 129Z" fill="none" stroke="#d8202c" stroke-width="2.6" stroke-linejoin="miter"/><path d="M239.5 129L264.5 129L264.5 155L239.5 155Z" fill="none" stroke="#d8202c" stroke-width="2.6" stroke-linejoin="miter"/><path d="M279 129.5L308 129.5L308 155L279 155Z" fill="none" stroke="#d8202c" stroke-width="2.6" stroke-linejoin="miter"/><rect x="239.5" y="126.2" width="25" height="5" fill="#d8202c"/><path d="M400 80.3L474 76.2L474 97.8L429.5 107.7L425 128.5L400 128.5Z" fill="none" stroke="#d8202c" stroke-width="2.6" stroke-linejoin="miter"/><path d="M400 128.5L425 128.5L425 154L400 154Z" fill="none" stroke="#d8202c" stroke-width="2.6" stroke-linejoin="miter"/><path d="M443 129.3L474 129.3L474 154L443 154Z" fill="none" stroke="#d8202c" stroke-width="2.6" stroke-linejoin="miter"/><rect x="400" y="125.8" width="25" height="5" fill="#d8202c"/><path d="M341.8 105.4L308.3 112.9" stroke="#d8202c" stroke-width="3"/><path d="M300.5 114.7L307.4 109.0L309.2 116.8Z" fill="#d8202c"/><path d="M507.4 105.3L474.0 113.2" stroke="#d8202c" stroke-width="3"/><path d="M466.2 115L473.1 109.3L474.9 117.1Z" fill="#d8202c"/><path d="M234.2 224.3L302.6 224.3L302.6 287.8L234.2 287.8Z" fill="none" stroke="#d8202c" stroke-width="2.6" stroke-linejoin="miter"/><path d="M390 225L459.2 225L459.2 288.7L390 288.7Z" fill="none" stroke="#d8202c" stroke-width="2.6" stroke-linejoin="miter"/><text x="279.8" y="219.3" font-family="'Liberation Serif', serif" font-size="16.8" font-weight="bold" fill="#a51a2b" text-anchor="start" >Apo</text><text x="435.2" y="219.9" font-family="'Liberation Serif', serif" font-size="16.8" font-weight="bold" fill="#a51a2b" text-anchor="start" >Apo</text><text x="104.5" y="75" font-family="'Liberation Serif', serif" font-size="16" font-weight="bold" fill="#a51a2b" text-anchor="start" >S</text><text x="46.5" y="143.6" font-family="Liberation Serif, serif" font-size="15" fill="#a51a2b" stroke="#a51a2b" stroke-width="0.5">G<tspan font-size="8">0</tspan>G<tspan font-size="8">1</tspan></text><text x="152" y="142.2" font-family="Liberation Serif, serif" font-size="14.5" fill="#a51a2b" stroke="#a51a2b" stroke-width="0.5">G<tspan font-size="8.5">2</tspan></text><text x="81.8" y="325.2" font-family="Liberation Serif, serif" font-size="14" fill="#a51a2b" stroke="#a51a2b" stroke-width="0.2">G<tspan font-size="8.5">0</tspan>G<tspan font-size="8.5">1</tspan></text><text x="130.2" y="325.2" font-family="Liberation Serif, serif" font-size="14" fill="#a51a2b" stroke="#a51a2b" stroke-width="0.2">G<tspan font-size="8.5">2</tspan></text><path d="M93.4 302.5l-2.3 5h4.6z" fill="#111"/><path d="M93.4 307.0v4" stroke="#111" stroke-width="1.7"/><path d="M132.3 302.5l-2.3 5h4.6z" fill="#111"/><path d="M132.3 307.0v4" stroke="#111" stroke-width="1.7"/><path d="M249.2 303.5l-2.3 5h4.6z" fill="#111"/><path d="M249.2 308.0v4" stroke="#111" stroke-width="1.7"/><path d="M287.7 303.5l-2.3 5h4.6z" fill="#111"/><path d="M287.7 308.0v4" stroke="#111" stroke-width="1.7"/><path d="M413.8 304.5l-2.3 5h4.6z" fill="#111"/><path d="M413.8 309.0v4" stroke="#111" stroke-width="1.7"/><path d="M452.3 304.5l-2.3 5h4.6z" fill="#111"/><path d="M452.3 309.0v4" stroke="#111" stroke-width="1.7"/><text x="103.8" y="14.8" font-family="'Liberation Serif', serif" font-size="17.6" font-weight="bold" fill="#000" text-anchor="start" >0 h</text><text x="258.7" y="15.1" font-family="'Liberation Serif', serif" font-size="17.6" font-weight="bold" fill="#000" text-anchor="start" >12 h</text><text x="422.3" y="17.6" font-family="'Liberation Serif', serif" font-size="17.6" font-weight="bold" fill="#000" text-anchor="start" >24 h</text><text transform="translate(13.2,129.8) rotate(-90)" font-family="Liberation Serif, serif" font-size="14.8" font-weight="bold">BrdUrd</text><text transform="translate(11.6,270.5) rotate(-90)" font-family="Liberation Serif, serif" font-size="13.5" font-weight="bold" textLength="49.5" lengthAdjust="spacingAndGlyphs">TUNEL</text><path d="M28.2 63.5V145.3" stroke="#111" stroke-width="4.2"/><path d="M28.3 52.3L34.6 64.5H22.1Z" fill="#111"/><path d="M27.5 207V289.4" stroke="#111" stroke-width="4.1"/><path d="M28 195.7L34.2 208H21.9Z" fill="#111"/><path d="M119.2 339.5H448" stroke="#111" stroke-width="4.4"/><path d="M459.2 339.8L447 333.6V346Z" fill="#111"/><text x="243.8" y="360.3" font-family="'Liberation Serif', serif" font-size="14.8" font-weight="bold" fill="#000" text-anchor="start" >DNA content</text></svg></body></html>
